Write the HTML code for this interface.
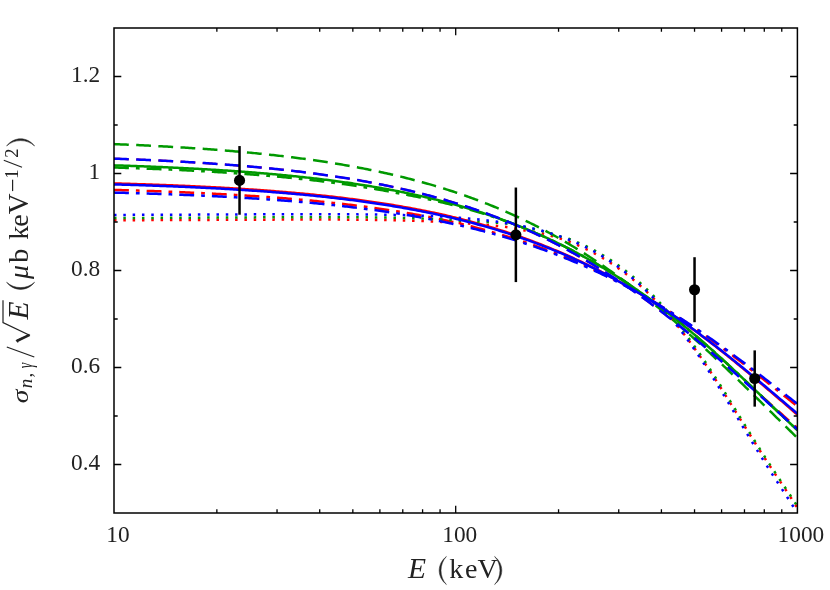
<!DOCTYPE html>
<html><head><meta charset="utf-8"><title>plot</title>
<style>
html,body{margin:0;padding:0;background:#fff;}
svg{display:block;will-change:transform;}
text{font-family:"Liberation Serif",serif;fill:#222;}
</style></head>
<body>
<svg width="830" height="590" viewBox="0 0 830 590">
<rect width="830" height="590" fill="#fff"/>
<defs><clipPath id="cp"><rect x="114.0" y="28.0" width="683.4" height="485.0"/></clipPath></defs>
<g clip-path="url(#cp)" stroke-linecap="butt" stroke-linejoin="round">
<path d="M114.00,183.43 L115.71,183.47 L117.43,183.52 L119.14,183.57 L120.85,183.62 L122.56,183.67 L124.28,183.72 L125.99,183.77 L127.70,183.82 L129.42,183.87 L131.13,183.92 L132.84,183.97 L134.55,184.03 L136.27,184.08 L137.98,184.13 L139.69,184.19 L141.40,184.24 L143.12,184.30 L144.83,184.36 L146.54,184.41 L148.26,184.47 L149.97,184.53 L151.68,184.59 L153.39,184.65 L155.11,184.71 L156.82,184.77 L158.53,184.84 L160.25,184.90 L161.96,184.96 L163.67,185.03 L165.38,185.09 L167.10,185.16 L168.81,185.23 L170.52,185.29 L172.23,185.36 L173.95,185.43 L175.66,185.50 L177.37,185.57 L179.09,185.64 L180.80,185.71 L182.51,185.79 L184.22,185.86 L185.94,185.94 L187.65,186.01 L189.36,186.09 L191.08,186.17 L192.79,186.24 L194.50,186.32 L196.21,186.40 L197.93,186.48 L199.64,186.57 L201.35,186.65 L203.06,186.73 L204.78,186.82 L206.49,186.90 L208.20,186.99 L209.92,187.08 L211.63,187.17 L213.34,187.25 L215.05,187.35 L216.77,187.44 L218.48,187.53 L220.19,187.62 L221.91,187.72 L223.62,187.81 L225.33,187.91 L227.04,188.01 L228.76,188.11 L230.47,188.21 L232.18,188.31 L233.89,188.41 L235.61,188.52 L237.32,188.62 L239.03,188.73 L240.75,188.83 L242.46,188.94 L244.17,189.05 L245.88,189.16 L247.60,189.27 L249.31,189.39 L251.02,189.50 L252.74,189.62 L254.45,189.74 L256.16,189.85 L257.87,189.97 L259.59,190.10 L261.30,190.22 L263.01,190.34 L264.72,190.47 L266.44,190.59 L268.15,190.72 L269.86,190.85 L271.58,190.98 L273.29,191.11 L275.00,191.25 L276.71,191.38 L278.43,191.52 L280.14,191.66 L281.85,191.80 L283.57,191.94 L285.28,192.08 L286.99,192.23 L288.70,192.38 L290.42,192.52 L292.13,192.67 L293.84,192.82 L295.55,192.98 L297.27,193.13 L298.98,193.29 L300.69,193.45 L302.41,193.61 L304.12,193.77 L305.83,193.93 L307.54,194.10 L309.26,194.26 L310.97,194.43 L312.68,194.60 L314.40,194.77 L316.11,194.95 L317.82,195.13 L319.53,195.30 L321.25,195.48 L322.96,195.67 L324.67,195.85 L326.38,196.04 L328.10,196.22 L329.81,196.42 L331.52,196.61 L333.24,196.80 L334.95,197.00 L336.66,197.20 L338.37,197.40 L340.09,197.60 L341.80,197.81 L343.51,198.01 L345.23,198.22 L346.94,198.44 L348.65,198.65 L350.36,198.87 L352.08,199.09 L353.79,199.31 L355.50,199.53 L357.22,199.76 L358.93,199.98 L360.64,200.22 L362.35,200.45 L364.07,200.69 L365.78,200.92 L367.49,201.16 L369.20,201.41 L370.92,201.65 L372.63,201.90 L374.34,202.15 L376.06,202.41 L377.77,202.67 L379.48,202.93 L381.19,203.19 L382.91,203.45 L384.62,203.72 L386.33,203.99 L388.05,204.27 L389.76,204.54 L391.47,204.82 L393.18,205.10 L394.90,205.39 L396.61,205.68 L398.32,205.97 L400.03,206.26 L401.75,206.56 L403.46,206.86 L405.17,207.17 L406.89,207.47 L408.60,207.78 L410.31,208.10 L412.02,208.41 L413.74,208.73 L415.45,209.06 L417.16,209.38 L418.88,209.71 L420.59,210.05 L422.30,210.38 L424.01,210.72 L425.73,211.07 L427.44,211.41 L429.15,211.77 L430.86,212.12 L432.58,212.48 L434.29,212.84 L436.00,213.20 L437.72,213.57 L439.43,213.95 L441.14,214.32 L442.85,214.70 L444.57,215.09 L446.28,215.48 L447.99,215.87 L449.71,216.26 L451.42,216.67 L453.13,217.09 L454.84,217.50 L456.56,217.92 L458.27,218.35 L459.98,218.78 L461.69,219.21 L463.41,219.65 L465.12,220.09 L466.83,220.54 L468.55,220.99 L470.26,221.44 L471.97,221.90 L473.68,222.37 L475.40,222.84 L477.11,223.31 L478.82,223.79 L480.54,224.27 L482.25,224.75 L483.96,225.24 L485.67,225.74 L487.39,226.24 L489.10,226.75 L490.81,227.26 L492.52,227.77 L494.24,228.29 L495.95,228.81 L497.66,229.34 L499.38,229.88 L501.09,230.42 L502.80,230.96 L504.51,231.51 L506.23,232.06 L507.94,232.62 L509.65,233.19 L511.37,233.76 L513.08,234.33 L514.79,234.91 L516.50,235.50 L518.22,236.09 L519.93,236.69 L521.64,237.29 L523.35,237.89 L525.07,238.51 L526.78,239.13 L528.49,239.75 L530.21,240.38 L531.92,241.01 L533.63,241.65 L535.34,242.30 L537.06,242.95 L538.77,243.61 L540.48,244.27 L542.20,244.94 L543.91,245.61 L545.62,246.29 L547.33,246.98 L549.05,247.67 L550.76,248.37 L552.47,249.08 L554.18,249.79 L555.90,250.50 L557.61,251.23 L559.32,251.95 L561.04,252.69 L562.75,253.43 L564.46,254.18 L566.17,254.93 L567.89,255.69 L569.60,256.46 L571.31,257.23 L573.03,258.01 L574.74,258.79 L576.45,259.58 L578.16,260.38 L579.88,261.19 L581.59,262.00 L583.30,262.81 L585.02,263.64 L586.73,264.47 L588.44,265.30 L590.15,266.15 L591.87,267.00 L593.58,267.85 L595.29,268.72 L597.00,269.59 L598.72,270.46 L600.43,271.35 L602.14,272.24 L603.86,273.13 L605.57,274.04 L607.28,274.95 L608.99,275.86 L610.71,276.79 L612.42,277.72 L614.13,278.66 L615.85,279.60 L617.56,280.55 L619.27,281.51 L620.98,282.48 L622.70,283.45 L624.41,284.43 L626.12,285.41 L627.83,286.41 L629.55,287.41 L631.26,288.41 L632.97,289.43 L634.69,290.45 L636.40,291.47 L638.11,292.51 L639.82,293.55 L641.54,294.60 L643.25,295.65 L644.96,296.72 L646.68,297.78 L648.39,298.86 L650.10,299.94 L651.81,301.03 L653.53,302.13 L655.24,303.23 L656.95,304.34 L658.66,305.46 L660.38,306.59 L662.09,307.72 L663.80,308.85 L665.52,310.00 L667.23,311.16 L668.94,312.32 L670.65,313.49 L672.37,314.66 L674.08,315.84 L675.79,317.03 L677.51,318.23 L679.22,319.43 L680.93,320.64 L682.64,321.85 L684.36,323.08 L686.07,324.31 L687.78,325.54 L689.49,326.78 L691.21,328.03 L692.92,329.28 L694.63,330.54 L696.35,331.81 L698.06,333.08 L699.77,334.36 L701.48,335.64 L703.20,336.93 L704.91,338.23 L706.62,339.53 L708.34,340.84 L710.05,342.16 L711.76,343.48 L713.47,344.80 L715.19,346.13 L716.90,347.47 L718.61,348.81 L720.32,350.16 L722.04,351.51 L723.75,352.87 L725.46,354.23 L727.18,355.60 L728.89,356.97 L730.60,358.35 L732.31,359.73 L734.03,361.12 L735.74,362.51 L737.45,363.91 L739.17,365.31 L740.88,366.71 L742.59,368.12 L744.30,369.54 L746.02,370.96 L747.73,372.38 L749.44,373.80 L751.15,375.23 L752.87,376.66 L754.58,378.10 L756.29,379.54 L758.01,380.98 L759.72,382.42 L761.43,383.87 L763.14,385.32 L764.86,386.78 L766.57,388.23 L768.28,389.69 L770.00,391.15 L771.71,392.61 L773.42,394.08 L775.13,395.54 L776.85,397.01 L778.56,398.48 L780.27,399.95 L781.98,401.42 L783.70,402.89 L785.41,404.36 L787.12,405.83 L788.84,407.31 L790.55,408.78 L792.26,410.25 L793.97,411.72 L795.69,413.20 L797.40,414.67" fill="none" stroke="#ff0000" stroke-width="2.5"/>
<path d="M114.00,158.63 L115.71,158.69 L117.43,158.75 L119.14,158.82 L120.85,158.88 L122.56,158.95 L124.28,159.01 L125.99,159.08 L127.70,159.14 L129.42,159.21 L131.13,159.28 L132.84,159.35 L134.55,159.42 L136.27,159.49 L137.98,159.56 L139.69,159.64 L141.40,159.71 L143.12,159.79 L144.83,159.86 L146.54,159.94 L148.26,160.01 L149.97,160.09 L151.68,160.17 L153.39,160.25 L155.11,160.33 L156.82,160.41 L158.53,160.50 L160.25,160.58 L161.96,160.66 L163.67,160.75 L165.38,160.83 L167.10,160.92 L168.81,161.01 L170.52,161.10 L172.23,161.19 L173.95,161.28 L175.66,161.37 L177.37,161.47 L179.09,161.56 L180.80,161.66 L182.51,161.75 L184.22,161.85 L185.94,161.95 L187.65,162.05 L189.36,162.15 L191.08,162.25 L192.79,162.35 L194.50,162.46 L196.21,162.56 L197.93,162.67 L199.64,162.78 L201.35,162.89 L203.06,163.00 L204.78,163.11 L206.49,163.22 L208.20,163.34 L209.92,163.45 L211.63,163.57 L213.34,163.69 L215.05,163.81 L216.77,163.93 L218.48,164.05 L220.19,164.17 L221.91,164.30 L223.62,164.42 L225.33,164.55 L227.04,164.68 L228.76,164.81 L230.47,164.94 L232.18,165.07 L233.89,165.21 L235.61,165.35 L237.32,165.48 L239.03,165.62 L240.75,165.76 L242.46,165.91 L244.17,166.05 L245.88,166.20 L247.60,166.34 L249.31,166.49 L251.02,166.64 L252.74,166.79 L254.45,166.95 L256.16,167.10 L257.87,167.26 L259.59,167.42 L261.30,167.58 L263.01,167.74 L264.72,167.91 L266.44,168.07 L268.15,168.24 L269.86,168.41 L271.58,168.58 L273.29,168.76 L275.00,168.93 L276.71,169.11 L278.43,169.29 L280.14,169.47 L281.85,169.65 L283.57,169.84 L285.28,170.03 L286.99,170.22 L288.70,170.41 L290.42,170.60 L292.13,170.80 L293.84,171.00 L295.55,171.20 L297.27,171.40 L298.98,171.60 L300.69,171.81 L302.41,172.02 L304.12,172.23 L305.83,172.44 L307.54,172.66 L309.26,172.88 L310.97,173.10 L312.68,173.32 L314.40,173.55 L316.11,173.77 L317.82,174.00 L319.53,174.24 L321.25,174.47 L322.96,174.71 L324.67,174.95 L326.38,175.19 L328.10,175.44 L329.81,175.69 L331.52,175.94 L333.24,176.19 L334.95,176.45 L336.66,176.70 L338.37,176.97 L340.09,177.23 L341.80,177.50 L343.51,177.77 L345.23,178.04 L346.94,178.32 L348.65,178.60 L350.36,178.88 L352.08,179.16 L353.79,179.45 L355.50,179.74 L357.22,180.03 L358.93,180.33 L360.64,180.63 L362.35,180.93 L364.07,181.24 L365.78,181.55 L367.49,181.86 L369.20,182.18 L370.92,182.50 L372.63,182.82 L374.34,183.15 L376.06,183.48 L377.77,183.81 L379.48,184.15 L381.19,184.49 L382.91,184.83 L384.62,185.18 L386.33,185.53 L388.05,185.88 L389.76,186.24 L391.47,186.60 L393.18,186.97 L394.90,187.34 L396.61,187.71 L398.32,188.09 L400.03,188.47 L401.75,188.85 L403.46,189.24 L405.17,189.63 L406.89,190.03 L408.60,190.43 L410.31,190.83 L412.02,191.24 L413.74,191.65 L415.45,192.07 L417.16,192.49 L418.88,192.92 L420.59,193.35 L422.30,193.78 L424.01,194.22 L425.73,194.66 L427.44,195.11 L429.15,195.56 L430.86,196.01 L432.58,196.47 L434.29,196.94 L436.00,197.41 L437.72,197.88 L439.43,198.36 L441.14,198.84 L442.85,199.33 L444.57,199.82 L446.28,200.32 L447.99,200.83 L449.71,201.33 L451.42,201.84 L453.13,202.36 L454.84,202.88 L456.56,203.41 L458.27,203.94 L459.98,204.48 L461.69,205.02 L463.41,205.57 L465.12,206.12 L466.83,206.68 L468.55,207.25 L470.26,207.81 L471.97,208.39 L473.68,208.97 L475.40,209.55 L477.11,210.14 L478.82,210.74 L480.54,211.34 L482.25,211.95 L483.96,212.56 L485.67,213.18 L487.39,213.80 L489.10,214.43 L490.81,215.07 L492.52,215.71 L494.24,216.36 L495.95,217.01 L497.66,217.67 L499.38,218.33 L501.09,219.00 L502.80,219.68 L504.51,220.36 L506.23,221.05 L507.94,221.75 L509.65,222.45 L511.37,223.16 L513.08,223.87 L514.79,224.59 L516.50,225.31 L518.22,226.05 L519.93,226.79 L521.64,227.53 L523.35,228.28 L525.07,229.04 L526.78,229.80 L528.49,230.58 L530.21,231.35 L531.92,232.14 L533.63,232.93 L535.34,233.72 L537.06,234.53 L538.77,235.34 L540.48,236.16 L542.20,236.98 L543.91,237.81 L545.62,238.65 L547.33,239.49 L549.05,240.34 L550.76,241.20 L552.47,242.07 L554.18,242.94 L555.90,243.82 L557.61,244.70 L559.32,245.59 L561.04,246.49 L562.75,247.40 L564.46,248.31 L566.17,249.24 L567.89,250.16 L569.60,251.10 L571.31,252.04 L573.03,252.99 L574.74,253.94 L576.45,254.91 L578.16,255.88 L579.88,256.86 L581.59,257.84 L583.30,258.83 L585.02,259.83 L586.73,260.84 L588.44,261.85 L590.15,262.87 L591.87,263.90 L593.58,264.94 L595.29,265.98 L597.00,267.03 L598.72,268.08 L600.43,269.15 L602.14,270.22 L603.86,271.30 L605.57,272.38 L607.28,273.48 L608.99,274.58 L610.71,275.69 L612.42,276.80 L614.13,277.92 L615.85,279.05 L617.56,280.19 L619.27,281.33 L620.98,282.48 L622.70,283.64 L624.41,284.80 L626.12,285.98 L627.83,287.16 L629.55,288.34 L631.26,289.54 L632.97,290.74 L634.69,291.94 L636.40,293.16 L638.11,294.38 L639.82,295.61 L641.54,296.84 L643.25,298.08 L644.96,299.33 L646.68,300.59 L648.39,301.85 L650.10,303.12 L651.81,304.39 L653.53,305.68 L655.24,306.96 L656.95,308.26 L658.66,309.56 L660.38,310.87 L662.09,312.18 L663.80,313.50 L665.52,314.83 L667.23,316.14 L668.94,317.46 L670.65,318.79 L672.37,320.12 L674.08,321.46 L675.79,322.81 L677.51,324.16 L679.22,325.51 L680.93,326.88 L682.64,328.24 L684.36,329.62 L686.07,331.00 L687.78,332.38 L689.49,333.77 L691.21,335.17 L692.92,336.57 L694.63,337.97 L696.35,339.38 L698.06,340.80 L699.77,342.22 L701.48,343.65 L703.20,345.08 L704.91,346.51 L706.62,347.95 L708.34,349.39 L710.05,350.84 L711.76,352.30 L713.47,353.75 L715.19,355.21 L716.90,356.68 L718.61,358.15 L720.32,359.62 L722.04,361.09 L723.75,362.57 L725.46,364.06 L727.18,365.54 L728.89,367.03 L730.60,368.52 L732.31,370.02 L734.03,371.52 L735.74,373.02 L737.45,374.52 L739.17,376.03 L740.88,377.54 L742.59,379.05 L744.30,380.56 L746.02,382.08 L747.73,383.60 L749.44,385.11 L751.15,386.64 L752.87,388.16 L754.58,389.68 L756.29,391.21 L758.01,392.73 L759.72,394.26 L761.43,395.79 L763.14,397.32 L764.86,398.84 L766.57,400.37 L768.28,401.90 L770.00,403.43 L771.71,404.97 L773.42,406.50 L775.13,408.03 L776.85,409.56 L778.56,411.09 L780.27,412.61 L781.98,414.14 L783.70,415.67 L785.41,417.20 L787.12,418.72 L788.84,420.25 L790.55,421.77 L792.26,423.29 L793.97,424.81 L795.69,426.33 L797.40,427.84" fill="none" stroke="#ff0000" stroke-width="2.1" stroke-dasharray="14.8 7.4"/>
<path d="M114.00,189.88 L115.71,189.93 L117.43,189.98 L119.14,190.03 L120.85,190.08 L122.56,190.13 L124.28,190.18 L125.99,190.23 L127.70,190.28 L129.42,190.33 L131.13,190.39 L132.84,190.44 L134.55,190.49 L136.27,190.55 L137.98,190.60 L139.69,190.66 L141.40,190.71 L143.12,190.77 L144.83,190.83 L146.54,190.89 L148.26,190.94 L149.97,191.00 L151.68,191.06 L153.39,191.12 L155.11,191.19 L156.82,191.25 L158.53,191.31 L160.25,191.37 L161.96,191.44 L163.67,191.50 L165.38,191.56 L167.10,191.63 L168.81,191.70 L170.52,191.76 L172.23,191.83 L173.95,191.90 L175.66,191.97 L177.37,192.04 L179.09,192.11 L180.80,192.18 L182.51,192.25 L184.22,192.33 L185.94,192.40 L187.65,192.48 L189.36,192.55 L191.08,192.63 L192.79,192.70 L194.50,192.78 L196.21,192.86 L197.93,192.94 L199.64,193.02 L201.35,193.10 L203.06,193.19 L204.78,193.27 L206.49,193.35 L208.20,193.44 L209.92,193.52 L211.63,193.61 L213.34,193.70 L215.05,193.79 L216.77,193.88 L218.48,193.97 L220.19,194.06 L221.91,194.15 L223.62,194.24 L225.33,194.34 L227.04,194.43 L228.76,194.53 L230.47,194.63 L232.18,194.73 L233.89,194.82 L235.61,194.93 L237.32,195.03 L239.03,195.13 L240.75,195.23 L242.46,195.34 L244.17,195.45 L245.88,195.55 L247.60,195.66 L249.31,195.77 L251.02,195.88 L252.74,195.99 L254.45,196.11 L256.16,196.22 L257.87,196.34 L259.59,196.45 L261.30,196.57 L263.01,196.69 L264.72,196.81 L266.44,196.94 L268.15,197.06 L269.86,197.18 L271.58,197.31 L273.29,197.44 L275.00,197.57 L276.71,197.70 L278.43,197.83 L280.14,197.96 L281.85,198.10 L283.57,198.23 L285.28,198.37 L286.99,198.51 L288.70,198.65 L290.42,198.79 L292.13,198.93 L293.84,199.08 L295.55,199.22 L297.27,199.37 L298.98,199.52 L300.69,199.67 L302.41,199.83 L304.12,199.98 L305.83,200.14 L307.54,200.29 L309.26,200.45 L310.97,200.61 L312.68,200.78 L314.40,200.94 L316.11,201.11 L317.82,201.28 L319.53,201.45 L321.25,201.62 L322.96,201.79 L324.67,201.97 L326.38,202.14 L328.10,202.32 L329.81,202.51 L331.52,202.69 L333.24,202.87 L334.95,203.06 L336.66,203.25 L338.37,203.44 L340.09,203.63 L341.80,203.83 L343.51,204.02 L345.23,204.22 L346.94,204.43 L348.65,204.63 L350.36,204.83 L352.08,205.04 L353.79,205.25 L355.50,205.46 L357.22,205.68 L358.93,205.89 L360.64,206.11 L362.35,206.33 L364.07,206.56 L365.78,206.78 L367.49,207.01 L369.20,207.24 L370.92,207.48 L372.63,207.71 L374.34,207.95 L376.06,208.19 L377.77,208.43 L379.48,208.68 L381.19,208.93 L382.91,209.18 L384.62,209.43 L386.33,209.68 L388.05,209.94 L389.76,210.20 L391.47,210.47 L393.18,210.73 L394.90,211.00 L396.61,211.28 L398.32,211.55 L400.03,211.83 L401.75,212.11 L403.46,212.39 L405.17,212.68 L406.89,212.97 L408.60,213.26 L410.31,213.56 L412.02,213.85 L413.74,214.16 L415.45,214.46 L417.16,214.77 L418.88,215.08 L420.59,215.39 L422.30,215.71 L424.01,216.03 L425.73,216.35 L427.44,216.68 L429.15,217.01 L430.86,217.34 L432.58,217.68 L434.29,218.02 L436.00,218.36 L437.72,218.71 L439.43,219.06 L441.14,219.41 L442.85,219.77 L444.57,220.13 L446.28,220.50 L447.99,220.86 L449.71,221.24 L451.42,221.62 L453.13,222.01 L454.84,222.41 L456.56,222.80 L458.27,223.21 L459.98,223.61 L461.69,224.02 L463.41,224.44 L465.12,224.85 L466.83,225.27 L468.55,225.70 L470.26,226.13 L471.97,226.56 L473.68,227.00 L475.40,227.44 L477.11,227.89 L478.82,228.34 L480.54,228.79 L482.25,229.25 L483.96,229.71 L485.67,230.18 L487.39,230.65 L489.10,231.13 L490.81,231.61 L492.52,232.09 L494.24,232.58 L495.95,233.08 L497.66,233.57 L499.38,234.08 L501.09,234.58 L502.80,235.10 L504.51,235.61 L506.23,236.13 L507.94,236.66 L509.65,237.19 L511.37,237.73 L513.08,238.27 L514.79,238.81 L516.50,239.36 L518.22,239.92 L519.93,240.48 L521.64,241.04 L523.35,241.61 L525.07,242.19 L526.78,242.77 L528.49,243.35 L530.21,243.94 L531.92,244.54 L533.63,245.14 L535.34,245.74 L537.06,246.35 L538.77,246.97 L540.48,247.59 L542.20,248.22 L543.91,248.85 L545.62,249.49 L547.33,250.13 L549.05,250.78 L550.76,251.44 L552.47,252.09 L554.18,252.76 L555.90,253.43 L557.61,254.11 L559.32,254.79 L561.04,255.48 L562.75,256.17 L564.46,256.87 L566.17,257.57 L567.89,258.28 L569.60,259.00 L571.31,259.72 L573.03,260.45 L574.74,261.18 L576.45,261.92 L578.16,262.67 L579.88,263.42 L581.59,264.18 L583.30,264.94 L585.02,265.71 L586.73,266.49 L588.44,267.27 L590.15,268.05 L591.87,268.85 L593.58,269.65 L595.29,270.45 L597.00,271.27 L598.72,272.08 L600.43,272.91 L602.14,273.74 L603.86,274.57 L605.57,275.42 L607.28,276.27 L608.99,277.12 L610.71,277.98 L612.42,278.85 L614.13,279.72 L615.85,280.60 L617.56,281.49 L619.27,282.38 L620.98,283.28 L622.70,284.19 L624.41,285.10 L626.12,286.02 L627.83,286.94 L629.55,287.87 L631.26,288.81 L632.97,289.75 L634.69,290.70 L636.40,291.66 L638.11,292.62 L639.82,293.59 L641.54,294.56 L643.25,295.54 L644.96,296.53 L646.68,297.52 L648.39,298.52 L650.10,299.53 L651.81,300.54 L653.53,301.56 L655.24,302.59 L656.95,303.62 L658.66,304.66 L660.38,305.70 L662.09,306.75 L663.80,307.81 L665.52,308.87 L667.23,309.96 L668.94,311.05 L670.65,312.14 L672.37,313.25 L674.08,314.36 L675.79,315.47 L677.51,316.59 L679.22,317.72 L680.93,318.85 L682.64,319.99 L684.36,321.13 L686.07,322.28 L687.78,323.44 L689.49,324.60 L691.21,325.77 L692.92,326.94 L694.63,328.12 L696.35,329.30 L698.06,330.49 L699.77,331.69 L701.48,332.89 L703.20,334.10 L704.91,335.31 L706.62,336.52 L708.34,337.75 L710.05,338.97 L711.76,340.21 L713.47,341.44 L715.19,342.68 L716.90,343.93 L718.61,345.18 L720.32,346.44 L722.04,347.70 L723.75,348.97 L725.46,350.24 L727.18,351.51 L728.89,352.79 L730.60,354.07 L732.31,355.36 L734.03,356.65 L735.74,357.95 L737.45,359.25 L739.17,360.55 L740.88,361.86 L742.59,363.17 L744.30,364.48 L746.02,365.80 L747.73,367.12 L749.44,368.45 L751.15,369.77 L752.87,371.10 L754.58,372.44 L756.29,373.77 L758.01,375.11 L759.72,376.45 L761.43,377.79 L763.14,379.14 L764.86,380.49 L766.57,381.84 L768.28,383.19 L770.00,384.54 L771.71,385.90 L773.42,387.25 L775.13,388.61 L776.85,389.97 L778.56,391.33 L780.27,392.69 L781.98,394.05 L783.70,395.41 L785.41,396.77 L787.12,398.13 L788.84,399.49 L790.55,400.85 L792.26,402.21 L793.97,403.57 L795.69,404.93 L797.40,406.28" fill="none" stroke="#ff0000" stroke-width="2.5" stroke-dasharray="14.9 7.0 3.75 7.0"/>
<path d="M114.00,220.26 L115.71,220.25 L117.43,220.25 L119.14,220.24 L120.85,220.23 L122.56,220.23 L124.28,220.22 L125.99,220.22 L127.70,220.21 L129.42,220.20 L131.13,220.20 L132.84,220.19 L134.55,220.19 L136.27,220.18 L137.98,220.17 L139.69,220.17 L141.40,220.16 L143.12,220.15 L144.83,220.15 L146.54,220.14 L148.26,220.14 L149.97,220.13 L151.68,220.12 L153.39,220.12 L155.11,220.11 L156.82,220.10 L158.53,220.10 L160.25,220.09 L161.96,220.08 L163.67,220.08 L165.38,220.07 L167.10,220.06 L168.81,220.05 L170.52,220.05 L172.23,220.04 L173.95,220.03 L175.66,220.03 L177.37,220.02 L179.09,220.01 L180.80,220.01 L182.51,220.00 L184.22,219.99 L185.94,219.98 L187.65,219.98 L189.36,219.97 L191.08,219.96 L192.79,219.96 L194.50,219.95 L196.21,219.94 L197.93,219.93 L199.64,219.93 L201.35,219.92 L203.06,219.91 L204.78,219.90 L206.49,219.90 L208.20,219.89 L209.92,219.88 L211.63,219.87 L213.34,219.87 L215.05,219.86 L216.77,219.85 L218.48,219.84 L220.19,219.84 L221.91,219.83 L223.62,219.82 L225.33,219.82 L227.04,219.81 L228.76,219.80 L230.47,219.79 L232.18,219.79 L233.89,219.78 L235.61,219.77 L237.32,219.76 L239.03,219.76 L240.75,219.75 L242.46,219.74 L244.17,219.74 L245.88,219.73 L247.60,219.72 L249.31,219.72 L251.02,219.71 L252.74,219.70 L254.45,219.70 L256.16,219.69 L257.87,219.68 L259.59,219.68 L261.30,219.67 L263.01,219.66 L264.72,219.66 L266.44,219.65 L268.15,219.65 L269.86,219.64 L271.58,219.64 L273.29,219.63 L275.00,219.62 L276.71,219.62 L278.43,219.61 L280.14,219.61 L281.85,219.61 L283.57,219.60 L285.28,219.60 L286.99,219.59 L288.70,219.59 L290.42,219.58 L292.13,219.58 L293.84,219.58 L295.55,219.57 L297.27,219.57 L298.98,219.57 L300.69,219.57 L302.41,219.56 L304.12,219.56 L305.83,219.56 L307.54,219.56 L309.26,219.56 L310.97,219.56 L312.68,219.56 L314.40,219.56 L316.11,219.56 L317.82,219.56 L319.53,219.56 L321.25,219.56 L322.96,219.56 L324.67,219.57 L326.38,219.57 L328.10,219.57 L329.81,219.57 L331.52,219.58 L333.24,219.58 L334.95,219.59 L336.66,219.59 L338.37,219.60 L340.09,219.61 L341.80,219.61 L343.51,219.62 L345.23,219.63 L346.94,219.64 L348.65,219.65 L350.36,219.66 L352.08,219.67 L353.79,219.68 L355.50,219.69 L357.22,219.71 L358.93,219.72 L360.64,219.74 L362.35,219.75 L364.07,219.77 L365.78,219.79 L367.49,219.80 L369.20,219.82 L370.92,219.84 L372.63,219.86 L374.34,219.89 L376.06,219.91 L377.77,219.93 L379.48,219.96 L381.19,219.98 L382.91,220.01 L384.62,220.04 L386.33,220.07 L388.05,220.10 L389.76,220.13 L391.47,220.17 L393.18,220.20 L394.90,220.24 L396.61,220.28 L398.32,220.32 L400.03,220.36 L401.75,220.40 L403.46,220.44 L405.17,220.49 L406.89,220.54 L408.60,220.59 L410.31,220.64 L412.02,220.69 L413.74,220.75 L415.45,220.80 L417.16,220.86 L418.88,220.92 L420.59,220.98 L422.30,221.05 L424.01,221.12 L425.73,221.19 L427.44,221.26 L429.15,221.33 L430.86,221.41 L432.58,221.49 L434.29,221.57 L436.00,221.65 L437.72,221.74 L439.43,221.83 L441.14,221.92 L442.85,222.02 L444.57,222.12 L446.28,222.22 L447.99,222.32 L449.71,222.43 L451.42,222.54 L453.13,222.66 L454.84,222.78 L456.56,222.90 L458.27,223.03 L459.98,223.15 L461.69,223.23 L463.41,223.32 L465.12,223.40 L466.83,223.50 L468.55,223.59 L470.26,223.69 L471.97,223.79 L473.68,223.90 L475.40,224.02 L477.11,224.14 L478.82,224.26 L480.54,224.39 L482.25,224.52 L483.96,224.66 L485.67,224.80 L487.39,224.95 L489.10,225.11 L490.81,225.27 L492.52,225.44 L494.24,225.61 L495.95,225.79 L497.66,225.97 L499.38,226.16 L501.09,226.36 L502.80,226.57 L504.51,226.78 L506.23,227.01 L507.94,227.29 L509.65,227.58 L511.37,227.87 L513.08,228.18 L514.79,228.49 L516.50,228.81 L518.22,229.14 L519.93,229.47 L521.64,229.82 L523.35,230.17 L525.07,230.53 L526.78,230.76 L528.49,231.01 L530.21,231.26 L531.92,231.52 L533.63,231.80 L535.34,232.08 L537.06,232.37 L538.77,232.68 L540.48,233.02 L542.20,233.44 L543.91,233.87 L545.62,234.31 L547.33,234.76 L549.05,235.22 L550.76,235.70 L552.47,236.19 L554.18,236.70 L555.90,237.21 L557.61,237.74 L559.32,238.28 L561.04,238.84 L562.75,239.41 L564.46,240.00 L566.17,240.60 L567.89,241.21 L569.60,241.84 L571.31,242.51 L573.03,243.21 L574.74,243.92 L576.45,244.64 L578.16,245.38 L579.88,246.14 L581.59,246.92 L583.30,247.71 L585.02,248.53 L586.73,249.36 L588.44,250.21 L590.15,251.07 L591.87,251.96 L593.58,252.87 L595.29,253.79 L597.00,254.74 L598.72,255.71 L600.43,256.69 L602.14,257.70 L603.86,258.73 L605.57,259.78 L607.28,260.86 L608.99,261.95 L610.71,263.07 L612.42,264.19 L614.13,265.33 L615.85,266.48 L617.56,267.67 L619.27,268.87 L620.98,270.10 L622.70,271.36 L624.41,272.64 L626.12,273.95 L627.83,275.28 L629.55,276.64 L631.26,278.02 L632.97,279.43 L634.69,280.87 L636.40,282.33 L638.11,283.82 L639.82,285.34 L641.54,286.89 L643.25,288.46 L644.96,290.06 L646.68,291.69 L648.39,293.35 L650.10,295.04 L651.81,296.75 L653.53,298.50 L655.24,300.27 L656.95,302.07 L658.66,303.90 L660.38,305.77 L662.09,307.66 L663.80,309.57 L665.52,311.51 L667.23,313.47 L668.94,315.45 L670.65,317.45 L672.37,319.49 L674.08,321.56 L675.79,323.66 L677.51,325.78 L679.22,327.93 L680.93,330.12 L682.64,332.32 L684.36,334.56 L686.07,336.83 L687.78,339.12 L689.49,341.44 L691.21,343.78 L692.92,346.16 L694.63,348.55 L696.35,350.97 L698.06,353.42 L699.77,355.89 L701.48,358.38 L703.20,360.90 L704.91,363.44 L706.62,366.00 L708.34,368.58 L710.05,371.18 L711.76,373.79 L713.47,376.43 L715.19,379.08 L716.90,381.75 L718.61,384.43 L720.32,387.13 L722.04,389.84 L723.75,392.56 L725.46,395.30 L727.18,398.04 L728.89,400.79 L730.60,403.55 L732.31,406.31 L734.03,409.08 L735.74,411.85 L737.45,414.62 L739.17,417.40 L740.88,420.17 L742.59,422.94 L744.30,425.71 L746.02,428.48 L747.73,431.23 L749.44,433.99 L751.15,436.73 L752.87,439.47 L754.58,442.19 L756.29,444.91 L758.01,447.61 L759.72,450.30 L761.43,452.98 L763.14,455.65 L764.86,458.30 L766.57,460.93 L768.28,463.56 L770.00,466.17 L771.71,468.79 L773.42,471.39 L775.13,473.99 L776.85,476.57 L778.56,479.15 L780.27,481.72 L781.98,484.29 L783.70,486.86 L785.41,489.43 L787.12,492.01 L788.84,494.60 L790.55,497.21 L792.26,499.84 L793.97,502.51 L795.69,505.21 L797.40,507.96" fill="none" stroke="#ff0000" stroke-width="2.5" stroke-dasharray="2.5 6.815"/>
<path d="M114.00,165.34 L115.71,165.39 L117.43,165.44 L119.14,165.50 L120.85,165.56 L122.56,165.61 L124.28,165.67 L125.99,165.73 L127.70,165.79 L129.42,165.85 L131.13,165.91 L132.84,165.97 L134.55,166.03 L136.27,166.09 L137.98,166.15 L139.69,166.22 L141.40,166.28 L143.12,166.34 L144.83,166.41 L146.54,166.48 L148.26,166.54 L149.97,166.61 L151.68,166.68 L153.39,166.75 L155.11,166.82 L156.82,166.89 L158.53,166.96 L160.25,167.04 L161.96,167.11 L163.67,167.18 L165.38,167.26 L167.10,167.33 L168.81,167.41 L170.52,167.49 L172.23,167.57 L173.95,167.65 L175.66,167.73 L177.37,167.81 L179.09,167.89 L180.80,167.97 L182.51,168.06 L184.22,168.14 L185.94,168.23 L187.65,168.32 L189.36,168.41 L191.08,168.49 L192.79,168.58 L194.50,168.68 L196.21,168.77 L197.93,168.86 L199.64,168.96 L201.35,169.05 L203.06,169.15 L204.78,169.24 L206.49,169.34 L208.20,169.44 L209.92,169.54 L211.63,169.65 L213.34,169.75 L215.05,169.85 L216.77,169.96 L218.48,170.07 L220.19,170.17 L221.91,170.28 L223.62,170.39 L225.33,170.50 L227.04,170.62 L228.76,170.73 L230.47,170.85 L232.18,170.96 L233.89,171.08 L235.61,171.20 L237.32,171.32 L239.03,171.44 L240.75,171.57 L242.46,171.69 L244.17,171.82 L245.88,171.94 L247.60,172.07 L249.31,172.20 L251.02,172.34 L252.74,172.47 L254.45,172.60 L256.16,172.74 L257.87,172.88 L259.59,173.02 L261.30,173.16 L263.01,173.30 L264.72,173.45 L266.44,173.59 L268.15,173.74 L269.86,173.89 L271.58,174.04 L273.29,174.19 L275.00,174.35 L276.71,174.50 L278.43,174.66 L280.14,174.82 L281.85,174.98 L283.57,175.14 L285.28,175.31 L286.99,175.47 L288.70,175.64 L290.42,175.81 L292.13,175.98 L293.84,176.16 L295.55,176.33 L297.27,176.51 L298.98,176.69 L300.69,176.87 L302.41,177.06 L304.12,177.24 L305.83,177.43 L307.54,177.62 L309.26,177.81 L310.97,178.01 L312.68,178.20 L314.40,178.40 L316.11,178.60 L317.82,178.80 L319.53,179.01 L321.25,179.22 L322.96,179.43 L324.67,179.64 L326.38,179.85 L328.10,180.07 L329.81,180.29 L331.52,180.51 L333.24,180.73 L334.95,180.96 L336.66,181.19 L338.37,181.42 L340.09,181.65 L341.80,181.89 L343.51,182.13 L345.23,182.37 L346.94,182.61 L348.65,182.86 L350.36,183.11 L352.08,183.36 L353.79,183.62 L355.50,183.87 L357.22,184.13 L358.93,184.40 L360.64,184.66 L362.35,184.93 L364.07,185.20 L365.78,185.48 L367.49,185.76 L369.20,186.04 L370.92,186.32 L372.63,186.61 L374.34,186.90 L376.06,187.19 L377.77,187.48 L379.48,187.78 L381.19,188.09 L382.91,188.39 L384.62,188.70 L386.33,189.01 L388.05,189.33 L389.76,189.65 L391.47,189.97 L393.18,190.29 L394.90,190.62 L396.61,190.95 L398.32,191.29 L400.03,191.63 L401.75,191.97 L403.46,192.32 L405.17,192.67 L406.89,193.02 L408.60,193.38 L410.31,193.74 L412.02,194.11 L413.74,194.48 L415.45,194.85 L417.16,195.23 L418.88,195.61 L420.59,195.99 L422.30,196.38 L424.01,196.77 L425.73,197.17 L427.44,197.57 L429.15,197.97 L430.86,198.38 L432.58,198.80 L434.29,199.21 L436.00,199.64 L437.72,200.06 L439.43,200.49 L441.14,200.93 L442.85,201.37 L444.57,201.81 L446.28,202.26 L447.99,202.71 L449.71,203.17 L451.42,203.63 L453.13,204.10 L454.84,204.57 L456.56,205.04 L458.27,205.53 L459.98,206.01 L461.69,206.50 L463.41,207.00 L465.12,207.50 L466.83,208.00 L468.55,208.51 L470.26,209.03 L471.97,209.55 L473.68,210.08 L475.40,210.61 L477.11,211.14 L478.82,211.69 L480.54,212.23 L482.25,212.79 L483.96,213.34 L485.67,213.91 L487.39,214.47 L489.10,215.05 L490.81,215.63 L492.52,216.21 L494.24,216.81 L495.95,217.40 L497.66,218.00 L499.38,218.61 L501.09,219.23 L502.80,219.85 L504.51,220.47 L506.23,221.10 L507.94,221.74 L509.65,222.39 L511.37,223.04 L513.08,223.69 L514.79,224.35 L516.50,225.02 L518.22,225.70 L519.93,226.38 L521.64,227.07 L523.35,227.76 L525.07,228.46 L526.78,229.17 L528.49,229.88 L530.21,230.60 L531.92,231.33 L533.63,232.06 L535.34,232.80 L537.06,233.54 L538.77,234.30 L540.48,235.06 L542.20,235.82 L543.91,236.60 L545.62,237.38 L547.33,238.16 L549.05,238.96 L550.76,239.76 L552.47,240.57 L554.18,241.38 L555.90,242.21 L557.61,243.04 L559.32,243.87 L561.04,244.72 L562.75,245.57 L564.46,246.43 L566.17,247.30 L567.89,248.17 L569.60,249.05 L571.31,249.94 L573.03,250.84 L574.74,251.74 L576.45,252.65 L578.16,253.57 L579.88,254.50 L581.59,255.43 L583.30,256.37 L585.02,257.32 L586.73,258.28 L588.44,259.24 L590.15,260.22 L591.87,261.20 L593.58,262.19 L595.29,263.18 L597.00,264.19 L598.72,265.20 L600.43,266.22 L602.14,267.25 L603.86,268.29 L605.57,269.33 L607.28,270.38 L608.99,271.44 L610.71,272.51 L612.42,273.59 L614.13,274.67 L615.85,275.77 L617.56,276.87 L619.27,277.98 L620.98,279.09 L622.70,280.22 L624.41,281.35 L626.12,282.50 L627.83,283.65 L629.55,284.81 L631.26,285.97 L632.97,287.15 L634.69,288.33 L636.40,289.52 L638.11,290.72 L639.82,291.93 L641.54,293.14 L643.25,294.37 L644.96,295.60 L646.68,296.84 L648.39,298.09 L650.10,299.35 L651.81,300.61 L653.53,301.89 L655.24,303.17 L656.95,304.46 L658.66,305.76 L660.38,307.06 L662.09,308.37 L663.80,309.70 L665.52,311.03 L667.23,312.36 L668.94,313.71 L670.65,315.06 L672.37,316.42 L674.08,317.79 L675.79,319.17 L677.51,320.55 L679.22,321.94 L680.93,323.34 L682.64,324.75 L684.36,326.17 L686.07,327.59 L687.78,329.02 L689.49,330.45 L691.21,331.90 L692.92,333.35 L694.63,334.81 L696.35,336.27 L698.06,337.74 L699.77,339.22 L701.48,340.71 L703.20,342.20 L704.91,343.70 L706.62,345.21 L708.34,346.72 L710.05,348.24 L711.76,349.76 L713.47,351.29 L715.19,352.83 L716.90,354.37 L718.61,355.92 L720.32,357.47 L722.04,359.03 L723.75,360.59 L725.46,362.16 L727.18,363.74 L728.89,365.32 L730.60,366.90 L732.31,368.49 L734.03,370.08 L735.74,371.68 L737.45,373.28 L739.17,374.89 L740.88,376.50 L742.59,378.11 L744.30,379.72 L746.02,381.34 L747.73,382.96 L749.44,384.59 L751.15,386.22 L752.87,387.85 L754.58,389.48 L756.29,391.11 L758.01,392.75 L759.72,394.38 L761.43,396.02 L763.14,397.66 L764.86,399.30 L766.57,400.93 L768.28,402.57 L770.00,404.21 L771.71,405.85 L773.42,407.49 L775.13,409.12 L776.85,410.76 L778.56,412.39 L780.27,414.02 L781.98,415.65 L783.70,417.27 L785.41,418.90 L787.12,420.51 L788.84,422.13 L790.55,423.74 L792.26,425.34 L793.97,426.94 L795.69,428.54 L797.40,430.12" fill="none" stroke="#009900" stroke-width="2.5"/>
<path d="M114.00,144.10 L115.71,144.17 L117.43,144.24 L119.14,144.31 L120.85,144.38 L122.56,144.45 L124.28,144.52 L125.99,144.59 L127.70,144.66 L129.42,144.74 L131.13,144.81 L132.84,144.89 L134.55,144.96 L136.27,145.04 L137.98,145.12 L139.69,145.20 L141.40,145.28 L143.12,145.36 L144.83,145.44 L146.54,145.52 L148.26,145.61 L149.97,145.69 L151.68,145.78 L153.39,145.86 L155.11,145.95 L156.82,146.04 L158.53,146.13 L160.25,146.22 L161.96,146.31 L163.67,146.40 L165.38,146.50 L167.10,146.59 L168.81,146.69 L170.52,146.78 L172.23,146.88 L173.95,146.98 L175.66,147.08 L177.37,147.18 L179.09,147.28 L180.80,147.39 L182.51,147.49 L184.22,147.60 L185.94,147.70 L187.65,147.81 L189.36,147.92 L191.08,148.03 L192.79,148.15 L194.50,148.26 L196.21,148.37 L197.93,148.49 L199.64,148.61 L201.35,148.72 L203.06,148.84 L204.78,148.97 L206.49,149.09 L208.20,149.21 L209.92,149.34 L211.63,149.46 L213.34,149.59 L215.05,149.72 L216.77,149.85 L218.48,149.98 L220.19,150.12 L221.91,150.25 L223.62,150.39 L225.33,150.53 L227.04,150.67 L228.76,150.81 L230.47,150.95 L232.18,151.10 L233.89,151.24 L235.61,151.39 L237.32,151.54 L239.03,151.69 L240.75,151.84 L242.46,152.00 L244.17,152.16 L245.88,152.31 L247.60,152.47 L249.31,152.63 L251.02,152.80 L252.74,152.96 L254.45,153.13 L256.16,153.30 L257.87,153.47 L259.59,153.64 L261.30,153.82 L263.01,153.99 L264.72,154.17 L266.44,154.35 L268.15,154.53 L269.86,154.72 L271.58,154.90 L273.29,155.09 L275.00,155.28 L276.71,155.48 L278.43,155.67 L280.14,155.87 L281.85,156.07 L283.57,156.27 L285.28,156.47 L286.99,156.68 L288.70,156.88 L290.42,157.09 L292.13,157.31 L293.84,157.52 L295.55,157.74 L297.27,157.96 L298.98,158.18 L300.69,158.40 L302.41,158.63 L304.12,158.86 L305.83,159.09 L307.54,159.33 L309.26,159.56 L310.97,159.80 L312.68,160.04 L314.40,160.29 L316.11,160.54 L317.82,160.78 L319.53,161.04 L321.25,161.29 L322.96,161.55 L324.67,161.81 L326.38,162.07 L328.10,162.34 L329.81,162.61 L331.52,162.88 L333.24,163.16 L334.95,163.43 L336.66,163.72 L338.37,164.00 L340.09,164.29 L341.80,164.58 L343.51,164.87 L345.23,165.17 L346.94,165.47 L348.65,165.77 L350.36,166.07 L352.08,166.38 L353.79,166.69 L355.50,167.01 L357.22,167.33 L358.93,167.65 L360.64,167.98 L362.35,168.31 L364.07,168.64 L365.78,168.97 L367.49,169.31 L369.20,169.66 L370.92,170.00 L372.63,170.35 L374.34,170.71 L376.06,171.06 L377.77,171.43 L379.48,171.79 L381.19,172.16 L382.91,172.53 L384.62,172.91 L386.33,173.29 L388.05,173.67 L389.76,174.06 L391.47,174.45 L393.18,174.85 L394.90,175.25 L396.61,175.66 L398.32,176.06 L400.03,176.48 L401.75,176.89 L403.46,177.32 L405.17,177.74 L406.89,178.17 L408.60,178.61 L410.31,179.04 L412.02,179.49 L413.74,179.94 L415.45,180.39 L417.16,180.84 L418.88,181.31 L420.59,181.77 L422.30,182.24 L424.01,182.72 L425.73,183.20 L427.44,183.68 L429.15,184.17 L430.86,184.67 L432.58,185.17 L434.29,185.67 L436.00,186.18 L437.72,186.69 L439.43,187.21 L441.14,187.74 L442.85,188.27 L444.57,188.80 L446.28,189.34 L447.99,189.89 L449.71,190.44 L451.42,190.99 L453.13,191.55 L454.84,192.12 L456.56,192.69 L458.27,193.27 L459.98,193.85 L461.69,194.44 L463.41,195.03 L465.12,195.63 L466.83,196.24 L468.55,196.85 L470.26,197.47 L471.97,198.09 L473.68,198.72 L475.40,199.35 L477.11,200.00 L478.82,200.64 L480.54,201.29 L482.25,201.95 L483.96,202.62 L485.67,203.29 L487.39,203.96 L489.10,204.65 L490.81,205.34 L492.52,206.03 L494.24,206.74 L495.95,207.44 L497.66,208.16 L499.38,208.88 L501.09,209.61 L502.80,210.34 L504.51,211.08 L506.23,211.83 L507.94,212.58 L509.65,213.34 L511.37,214.11 L513.08,214.89 L514.79,215.67 L516.50,216.45 L518.22,217.25 L519.93,218.05 L521.64,218.86 L523.35,219.67 L525.07,220.50 L526.78,221.32 L528.49,222.16 L530.21,223.00 L531.92,223.85 L533.63,224.71 L535.34,225.58 L537.06,226.45 L538.77,227.33 L540.48,228.21 L542.20,229.11 L543.91,230.01 L545.62,230.92 L547.33,231.83 L549.05,232.76 L550.76,233.69 L552.47,234.63 L554.18,235.57 L555.90,236.53 L557.61,237.49 L559.32,238.45 L561.04,239.43 L562.75,240.41 L564.46,241.40 L566.17,242.40 L567.89,243.41 L569.60,244.42 L571.31,245.45 L573.03,246.47 L574.74,247.51 L576.45,248.56 L578.16,249.61 L579.88,250.67 L581.59,251.74 L583.30,252.81 L585.02,253.90 L586.73,254.99 L588.44,256.09 L590.15,257.20 L591.87,258.31 L593.58,259.44 L595.29,260.57 L597.00,261.70 L598.72,262.85 L600.43,264.01 L602.14,265.17 L603.86,266.34 L605.57,267.52 L607.28,268.70 L608.99,269.90 L610.71,271.10 L612.42,272.31 L614.13,273.52 L615.85,274.75 L617.56,275.98 L619.27,277.22 L620.98,278.47 L622.70,279.73 L624.41,280.99 L626.12,282.26 L627.83,283.54 L629.55,284.83 L631.26,286.12 L632.97,287.42 L634.69,288.73 L636.40,290.05 L638.11,291.37 L639.82,292.71 L641.54,294.05 L643.25,295.39 L644.96,296.75 L646.68,298.11 L648.39,299.48 L650.10,300.86 L651.81,302.24 L653.53,303.63 L655.24,305.03 L656.95,306.43 L658.66,307.85 L660.38,309.27 L662.09,310.69 L663.80,312.13 L665.52,313.57 L667.23,315.01 L668.94,316.47 L670.65,317.93 L672.37,319.39 L674.08,320.87 L675.79,322.35 L677.51,323.83 L679.22,325.32 L680.93,326.82 L682.64,328.33 L684.36,329.84 L686.07,331.36 L687.78,332.88 L689.49,334.41 L691.21,335.94 L692.92,337.48 L694.63,339.03 L696.35,340.58 L698.06,342.14 L699.77,343.70 L701.48,345.27 L703.20,346.84 L704.91,348.42 L706.62,350.00 L708.34,351.59 L710.05,353.18 L711.76,354.78 L713.47,356.38 L715.19,357.99 L716.90,359.60 L718.61,361.21 L720.32,362.83 L722.04,364.45 L723.75,366.08 L725.46,367.71 L727.18,369.35 L728.89,370.99 L730.60,372.63 L732.31,374.27 L734.03,375.92 L735.74,377.57 L737.45,379.22 L739.17,380.88 L740.88,382.54 L742.59,384.20 L744.30,385.87 L746.02,387.53 L747.73,389.20 L749.44,390.87 L751.15,392.55 L752.87,394.22 L754.58,395.90 L756.29,397.58 L758.01,399.26 L759.72,400.94 L761.43,402.62 L763.14,404.30 L764.86,405.98 L766.57,407.67 L768.28,409.35 L770.00,411.04 L771.71,412.72 L773.42,414.41 L775.13,416.10 L776.85,417.78 L778.56,419.47 L780.27,421.15 L781.98,422.84 L783.70,424.52 L785.41,426.20 L787.12,427.89 L788.84,429.57 L790.55,431.25 L792.26,432.92 L793.97,434.60 L795.69,436.28 L797.40,437.95" fill="none" stroke="#009900" stroke-width="2.5" stroke-dasharray="14.8 7.4"/>
<path d="M114.00,167.52 L115.71,167.57 L117.43,167.62 L119.14,167.68 L120.85,167.73 L122.56,167.79 L124.28,167.84 L125.99,167.90 L127.70,167.96 L129.42,168.01 L131.13,168.07 L132.84,168.13 L134.55,168.19 L136.27,168.25 L137.98,168.31 L139.69,168.38 L141.40,168.44 L143.12,168.50 L144.83,168.57 L146.54,168.63 L148.26,168.70 L149.97,168.76 L151.68,168.83 L153.39,168.90 L155.11,168.97 L156.82,169.04 L158.53,169.11 L160.25,169.18 L161.96,169.25 L163.67,169.32 L165.38,169.40 L167.10,169.47 L168.81,169.55 L170.52,169.62 L172.23,169.70 L173.95,169.78 L175.66,169.86 L177.37,169.94 L179.09,170.02 L180.80,170.10 L182.51,170.18 L184.22,170.27 L185.94,170.35 L187.65,170.44 L189.36,170.52 L191.08,170.61 L192.79,170.70 L194.50,170.79 L196.21,170.88 L197.93,170.97 L199.64,171.07 L201.35,171.16 L203.06,171.25 L204.78,171.35 L206.49,171.45 L208.20,171.55 L209.92,171.64 L211.63,171.75 L213.34,171.85 L215.05,171.95 L216.77,172.05 L218.48,172.16 L220.19,172.27 L221.91,172.37 L223.62,172.48 L225.33,172.59 L227.04,172.70 L228.76,172.82 L230.47,172.93 L232.18,173.05 L233.89,173.16 L235.61,173.28 L237.32,173.40 L239.03,173.52 L240.75,173.64 L242.46,173.76 L244.17,173.89 L245.88,174.02 L247.60,174.14 L249.31,174.27 L251.02,174.40 L252.74,174.53 L254.45,174.67 L256.16,174.80 L257.87,174.94 L259.59,175.08 L261.30,175.22 L263.01,175.36 L264.72,175.50 L266.44,175.64 L268.15,175.79 L269.86,175.94 L271.58,176.09 L273.29,176.24 L275.00,176.39 L276.71,176.55 L278.43,176.70 L280.14,176.86 L281.85,177.02 L283.57,177.18 L285.28,177.34 L286.99,177.51 L288.70,177.68 L290.42,177.84 L292.13,178.01 L293.84,178.19 L295.55,178.36 L297.27,178.54 L298.98,178.72 L300.69,178.90 L302.41,179.08 L304.12,179.26 L305.83,179.45 L307.54,179.64 L309.26,179.83 L310.97,180.02 L312.68,180.22 L314.40,180.41 L316.11,180.61 L317.82,180.81 L319.53,181.02 L321.25,181.22 L322.96,181.43 L324.67,181.64 L326.38,181.86 L328.10,182.07 L329.81,182.29 L331.52,182.51 L333.24,182.73 L334.95,182.96 L336.66,183.18 L338.37,183.41 L340.09,183.64 L341.80,183.88 L343.51,184.12 L345.23,184.36 L346.94,184.60 L348.65,184.84 L350.36,185.09 L352.08,185.34 L353.79,185.60 L355.50,185.85 L357.22,186.11 L358.93,186.37 L360.64,186.64 L362.35,186.90 L364.07,187.17 L365.78,187.45 L367.49,187.72 L369.20,188.00 L370.92,188.28 L372.63,188.57 L374.34,188.86 L376.06,189.15 L377.77,189.44 L379.48,189.74 L381.19,190.04 L382.91,190.35 L384.62,190.65 L386.33,190.96 L388.05,191.28 L389.76,191.59 L391.47,191.92 L393.18,192.24 L394.90,192.57 L396.61,192.90 L398.32,193.23 L400.03,193.57 L401.75,193.88 L403.46,194.20 L405.17,194.53 L406.89,194.85 L408.60,195.18 L410.31,195.52 L412.02,195.85 L413.74,196.19 L415.45,196.54 L417.16,196.89 L418.88,197.24 L420.59,197.60 L422.30,197.96 L424.01,198.32 L425.73,198.69 L427.44,199.07 L429.15,199.44 L430.86,199.82 L432.58,200.21 L434.29,200.60 L436.00,200.99 L437.72,201.39 L439.43,201.79 L441.14,202.20 L442.85,202.61 L444.57,203.03 L446.28,203.45 L447.99,203.88 L449.71,204.30 L451.42,204.74 L453.13,205.18 L454.84,205.62 L456.56,206.07 L458.27,206.52 L459.98,206.98 L461.69,207.44 L463.41,207.91 L465.12,208.39 L466.83,208.86 L468.55,209.35 L470.26,209.83 L471.97,210.33 L473.68,210.83 L475.40,211.33 L477.11,211.84 L478.82,212.35 L480.54,212.87 L482.25,213.40 L483.96,213.93 L485.67,214.46 L487.39,215.00 L489.10,215.55 L490.81,216.10 L492.52,216.66 L494.24,217.22 L495.95,217.79 L497.66,218.37 L499.38,218.95 L501.09,219.53 L502.80,220.12 L504.51,220.72 L506.23,221.33 L507.94,221.94 L509.65,222.55 L511.37,223.18 L513.08,223.80 L514.79,224.44 L516.50,225.08 L518.22,225.73 L519.93,226.38 L521.64,227.07 L523.35,227.76 L525.07,228.46 L526.78,229.17 L528.49,229.88 L530.21,230.60 L531.92,231.33 L533.63,232.06 L535.34,232.80 L537.06,233.54 L538.77,234.30 L540.48,235.06 L542.20,235.82 L543.91,236.60 L545.62,237.38 L547.33,238.16 L549.05,238.96 L550.76,239.76 L552.47,240.57 L554.18,241.38 L555.90,242.21 L557.61,243.04 L559.32,243.87 L561.04,244.72 L562.75,245.57 L564.46,246.43 L566.17,247.30 L567.89,248.17 L569.60,249.05 L571.31,249.94 L573.03,250.84 L574.74,251.74 L576.45,252.65 L578.16,253.57 L579.88,254.50 L581.59,255.43 L583.30,256.37 L585.02,257.32 L586.73,258.28 L588.44,259.24 L590.15,260.22 L591.87,261.20 L593.58,262.19 L595.29,263.18 L597.00,264.19 L598.72,265.20 L600.43,266.22 L602.14,267.25 L603.86,268.29 L605.57,269.33 L607.28,270.38 L608.99,271.44 L610.71,272.51 L612.42,273.59 L614.13,274.67 L615.85,275.77 L617.56,276.87 L619.27,277.98 L620.98,279.09 L622.70,280.22 L624.41,281.35 L626.12,282.50 L627.83,283.65 L629.55,284.81 L631.26,285.97 L632.97,287.15 L634.69,288.33 L636.40,289.52 L638.11,290.72 L639.82,291.93 L641.54,293.14 L643.25,294.37 L644.96,295.60 L646.68,296.84 L648.39,298.09 L650.10,299.35 L651.81,300.61 L653.53,301.89 L655.24,303.17 L656.95,304.46 L658.66,305.76 L660.38,307.06 L662.09,308.37 L663.80,309.70 L665.52,311.03 L667.23,312.36 L668.94,313.71 L670.65,315.06 L672.37,316.42 L674.08,317.79 L675.79,319.17 L677.51,320.55 L679.22,321.94 L680.93,323.34 L682.64,324.75 L684.36,326.17 L686.07,327.59 L687.78,329.02 L689.49,330.45 L691.21,331.90 L692.92,333.35 L694.63,334.81 L696.35,336.27 L698.06,337.74 L699.77,339.22 L701.48,340.71 L703.20,342.20 L704.91,343.70 L706.62,345.21 L708.34,346.72 L710.05,348.24 L711.76,349.76 L713.47,351.29 L715.19,352.83 L716.90,354.37 L718.61,355.92 L720.32,357.47 L722.04,359.03 L723.75,360.59 L725.46,362.16 L727.18,363.74 L728.89,365.32 L730.60,366.90 L732.31,368.49 L734.03,370.08 L735.74,371.68 L737.45,373.28 L739.17,374.89 L740.88,376.50 L742.59,378.11 L744.30,379.72 L746.02,381.34 L747.73,382.96 L749.44,384.59 L751.15,386.22 L752.87,387.85 L754.58,389.48 L756.29,391.11 L758.01,392.75 L759.72,394.38 L761.43,396.02 L763.14,397.66 L764.86,399.30 L766.57,400.93 L768.28,402.57 L770.00,404.21 L771.71,405.85 L773.42,407.49 L775.13,409.12 L776.85,410.76 L778.56,412.39 L780.27,414.02 L781.98,415.65 L783.70,417.27 L785.41,418.90 L787.12,420.51 L788.84,422.13 L790.55,423.74 L792.26,425.34 L793.97,426.94 L795.69,428.54 L797.40,430.12" fill="none" stroke="#009900" stroke-width="2.5" stroke-dasharray="14.9 7.0 3.75 7.0"/>
<path d="M114.00,218.08 L115.71,218.07 L117.43,218.06 L119.14,218.05 L120.85,218.05 L122.56,218.04 L124.28,218.03 L125.99,218.02 L127.70,218.01 L129.42,218.01 L131.13,218.00 L132.84,217.99 L134.55,217.98 L136.27,217.98 L137.98,217.97 L139.69,217.96 L141.40,217.95 L143.12,217.94 L144.83,217.94 L146.54,217.93 L148.26,217.92 L149.97,217.91 L151.68,217.90 L153.39,217.89 L155.11,217.89 L156.82,217.88 L158.53,217.87 L160.25,217.86 L161.96,217.85 L163.67,217.84 L165.38,217.84 L167.10,217.83 L168.81,217.82 L170.52,217.81 L172.23,217.80 L173.95,217.79 L175.66,217.78 L177.37,217.78 L179.09,217.77 L180.80,217.76 L182.51,217.75 L184.22,217.74 L185.94,217.73 L187.65,217.72 L189.36,217.71 L191.08,217.70 L192.79,217.70 L194.50,217.69 L196.21,217.68 L197.93,217.67 L199.64,217.66 L201.35,217.65 L203.06,217.64 L204.78,217.63 L206.49,217.62 L208.20,217.61 L209.92,217.60 L211.63,217.60 L213.34,217.59 L215.05,217.58 L216.77,217.57 L218.48,217.56 L220.19,217.55 L221.91,217.54 L223.62,217.53 L225.33,217.52 L227.04,217.51 L228.76,217.51 L230.47,217.50 L232.18,217.49 L233.89,217.48 L235.61,217.47 L237.32,217.46 L239.03,217.45 L240.75,217.44 L242.46,217.44 L244.17,217.43 L245.88,217.42 L247.60,217.41 L249.31,217.40 L251.02,217.39 L252.74,217.38 L254.45,217.38 L256.16,217.37 L257.87,217.36 L259.59,217.35 L261.30,217.34 L263.01,217.34 L264.72,217.33 L266.44,217.32 L268.15,217.31 L269.86,217.31 L271.58,217.30 L273.29,217.29 L275.00,217.28 L276.71,217.28 L278.43,217.27 L280.14,217.26 L281.85,217.26 L283.57,217.25 L285.28,217.25 L286.99,217.24 L288.70,217.23 L290.42,217.23 L292.13,217.22 L293.84,217.22 L295.55,217.21 L297.27,217.21 L298.98,217.21 L300.69,217.20 L302.41,217.20 L304.12,217.19 L305.83,217.19 L307.54,217.19 L309.26,217.18 L310.97,217.18 L312.68,217.18 L314.40,217.18 L316.11,217.18 L317.82,217.18 L319.53,217.18 L321.25,217.18 L322.96,217.18 L324.67,217.18 L326.38,217.18 L328.10,217.18 L329.81,217.18 L331.52,217.18 L333.24,217.19 L334.95,217.19 L336.66,217.19 L338.37,217.20 L340.09,217.20 L341.80,217.21 L343.51,217.21 L345.23,217.22 L346.94,217.23 L348.65,217.24 L350.36,217.24 L352.08,217.25 L353.79,217.26 L355.50,217.27 L357.22,217.29 L358.93,217.30 L360.64,217.31 L362.35,217.33 L364.07,217.34 L365.78,217.36 L367.49,217.37 L369.20,217.39 L370.92,217.41 L372.63,217.43 L374.34,217.45 L376.06,217.47 L377.77,217.49 L379.48,217.52 L381.19,217.54 L382.91,217.57 L384.62,217.59 L386.33,217.62 L388.05,217.65 L389.76,217.68 L391.47,217.71 L393.18,217.75 L394.90,217.78 L396.61,217.82 L398.32,217.86 L400.03,217.89 L401.75,217.94 L403.46,217.98 L405.17,218.02 L406.89,218.07 L408.60,218.12 L410.31,218.16 L412.02,218.22 L413.74,218.27 L415.45,218.32 L417.16,218.38 L418.88,218.44 L420.59,218.50 L422.30,218.56 L424.01,218.63 L425.73,218.70 L427.44,218.77 L429.15,218.84 L430.86,218.92 L432.58,218.99 L434.29,219.07 L436.00,219.16 L437.72,219.24 L439.43,219.33 L441.14,219.42 L442.85,219.51 L444.57,219.61 L446.28,219.71 L447.99,219.81 L449.71,219.92 L451.42,220.03 L453.13,220.14 L454.84,220.26 L456.56,220.38 L458.27,220.50 L459.98,220.63 L461.69,220.69 L463.41,220.75 L465.12,220.81 L466.83,220.88 L468.55,220.95 L470.26,221.03 L471.97,221.11 L473.68,221.20 L475.40,221.29 L477.11,221.38 L478.82,221.48 L480.54,221.58 L482.25,221.69 L483.96,221.81 L485.67,221.93 L487.39,222.06 L489.10,222.19 L490.81,222.31 L492.52,222.43 L494.24,222.55 L495.95,222.68 L497.66,222.82 L499.38,222.96 L501.09,223.11 L502.80,223.27 L504.51,223.43 L506.23,223.61 L507.94,223.88 L509.65,224.15 L511.37,224.43 L513.08,224.72 L514.79,225.01 L516.50,225.32 L518.22,225.63 L519.93,225.95 L521.64,226.28 L523.35,226.62 L525.07,226.97 L526.78,227.33 L528.49,227.69 L530.21,228.07 L531.92,228.45 L533.63,228.85 L535.34,229.26 L537.06,229.67 L538.77,230.10 L540.48,230.54 L542.20,230.99 L543.91,231.45 L545.62,231.92 L547.33,232.41 L549.05,232.90 L550.76,233.41 L552.47,233.94 L554.18,234.47 L555.90,235.02 L557.61,235.58 L559.32,236.15 L561.04,236.65 L562.75,237.10 L564.46,237.57 L566.17,238.05 L567.89,238.55 L569.60,239.06 L571.31,239.70 L573.03,240.39 L574.74,241.09 L576.45,241.81 L578.16,242.55 L579.88,243.31 L581.59,244.08 L583.30,244.87 L585.02,245.68 L586.73,246.50 L588.44,247.35 L590.15,248.21 L591.87,249.10 L593.58,250.00 L595.29,250.92 L597.00,251.86 L598.72,252.83 L600.43,253.81 L602.14,254.81 L603.86,255.84 L605.57,256.89 L607.28,257.96 L608.99,259.05 L610.71,260.16 L612.42,261.29 L614.13,262.44 L615.85,263.62 L617.56,264.81 L619.27,266.04 L620.98,267.28 L622.70,268.55 L624.41,269.85 L626.12,271.17 L627.83,272.52 L629.55,273.89 L631.26,275.29 L632.97,276.72 L634.69,278.17 L636.40,279.65 L638.11,281.15 L639.82,282.69 L641.54,284.25 L643.25,285.84 L644.96,287.46 L646.68,289.10 L648.39,290.78 L650.10,292.48 L651.81,294.21 L653.53,295.97 L655.24,297.76 L656.95,299.58 L658.66,301.42 L660.38,303.30 L662.09,305.20 L663.80,307.14 L665.52,309.10 L667.23,311.06 L668.94,313.06 L670.65,315.09 L672.37,317.15 L674.08,319.23 L675.79,321.35 L677.51,323.49 L679.22,325.66 L680.93,327.86 L682.64,330.09 L684.36,332.34 L686.07,334.63 L687.78,336.94 L689.49,339.27 L691.21,341.64 L692.92,344.03 L694.63,346.44 L696.35,348.88 L698.06,351.35 L699.77,353.83 L701.48,356.35 L703.20,358.88 L704.91,361.44 L706.62,364.01 L708.34,366.61 L710.05,369.23 L711.76,371.86 L713.47,374.52 L715.19,377.19 L716.90,379.88 L718.61,382.58 L720.32,385.29 L722.04,388.02 L723.75,390.76 L725.46,393.51 L727.18,396.27 L728.89,399.04 L730.60,401.82 L732.31,404.60 L734.03,407.39 L735.74,410.18 L737.45,412.97 L739.17,415.76 L740.88,418.55 L742.59,421.34 L744.30,424.13 L746.02,426.91 L747.73,429.69 L749.44,432.46 L751.15,435.22 L752.87,437.98 L754.58,440.72 L756.29,443.45 L758.01,446.18 L759.72,448.88 L761.43,451.58 L763.14,454.26 L764.86,456.93 L766.57,459.59 L768.28,462.23 L770.00,464.86 L771.71,467.47 L773.42,470.06 L775.13,472.65 L776.85,475.23 L778.56,477.80 L780.27,480.36 L781.98,482.92 L783.70,485.48 L785.41,488.04 L787.12,490.61 L788.84,493.19 L790.55,495.79 L792.26,498.42 L793.97,501.07 L795.69,503.77 L797.40,506.51" fill="none" stroke="#009900" stroke-width="2.5" stroke-dasharray="2.5 6.815"/>
<path d="M114.00,184.40 L115.71,184.44 L117.43,184.49 L119.14,184.54 L120.85,184.59 L122.56,184.64 L124.28,184.69 L125.99,184.74 L127.70,184.79 L129.42,184.84 L131.13,184.89 L132.84,184.95 L134.55,185.00 L136.27,185.06 L137.98,185.11 L139.69,185.17 L141.40,185.22 L143.12,185.28 L144.83,185.34 L146.54,185.39 L148.26,185.45 L149.97,185.51 L151.68,185.57 L153.39,185.63 L155.11,185.69 L156.82,185.76 L158.53,185.82 L160.25,185.88 L161.96,185.95 L163.67,186.01 L165.38,186.08 L167.10,186.14 L168.81,186.21 L170.52,186.28 L172.23,186.35 L173.95,186.42 L175.66,186.49 L177.37,186.56 L179.09,186.63 L180.80,186.70 L182.51,186.78 L184.22,186.85 L185.94,186.93 L187.65,187.00 L189.36,187.08 L191.08,187.16 L192.79,187.24 L194.50,187.32 L196.21,187.40 L197.93,187.48 L199.64,187.56 L201.35,187.64 L203.06,187.73 L204.78,187.81 L206.49,187.90 L208.20,187.99 L209.92,188.07 L211.63,188.16 L213.34,188.25 L215.05,188.34 L216.77,188.44 L218.48,188.53 L220.19,188.62 L221.91,188.72 L223.62,188.82 L225.33,188.91 L227.04,189.01 L228.76,189.11 L230.47,189.21 L232.18,189.31 L233.89,189.42 L235.61,189.52 L237.32,189.63 L239.03,189.73 L240.75,189.84 L242.46,189.95 L244.17,190.06 L245.88,190.17 L247.60,190.28 L249.31,190.40 L251.02,190.51 L252.74,190.63 L254.45,190.75 L256.16,190.87 L257.87,190.99 L259.59,191.11 L261.30,191.23 L263.01,191.35 L264.72,191.48 L266.44,191.61 L268.15,191.74 L269.86,191.87 L271.58,192.00 L273.29,192.13 L275.00,192.27 L276.71,192.40 L278.43,192.54 L280.14,192.68 L281.85,192.82 L283.57,192.96 L285.28,193.10 L286.99,193.25 L288.70,193.40 L290.42,193.54 L292.13,193.69 L293.84,193.85 L295.55,194.00 L297.27,194.15 L298.98,194.31 L300.69,194.47 L302.41,194.63 L304.12,194.79 L305.83,194.96 L307.54,195.12 L309.26,195.29 L310.97,195.46 L312.68,195.63 L314.40,195.80 L316.11,195.98 L317.82,196.15 L319.53,196.33 L321.25,196.51 L322.96,196.70 L324.67,196.88 L326.38,197.07 L328.10,197.26 L329.81,197.45 L331.52,197.64 L333.24,197.84 L334.95,198.03 L336.66,198.23 L338.37,198.43 L340.09,198.64 L341.80,198.84 L343.51,199.05 L345.23,199.26 L346.94,199.47 L348.65,199.69 L350.36,199.90 L352.08,200.12 L353.79,200.35 L355.50,200.57 L357.22,200.80 L358.93,201.03 L360.64,201.26 L362.35,201.49 L364.07,201.73 L365.78,201.97 L367.49,202.21 L369.20,202.45 L370.92,202.70 L372.63,202.95 L374.34,203.20 L376.06,203.45 L377.77,203.71 L379.48,203.97 L381.19,204.24 L382.91,204.50 L384.62,204.77 L386.33,205.04 L388.05,205.31 L389.76,205.59 L391.47,205.87 L393.18,206.15 L394.90,206.44 L396.61,206.73 L398.32,207.02 L400.03,207.32 L401.75,207.61 L403.46,207.92 L405.17,208.22 L406.89,208.53 L408.60,208.84 L410.31,209.15 L412.02,209.47 L413.74,209.79 L415.45,210.11 L417.16,210.44 L418.88,210.77 L420.59,211.10 L422.30,211.44 L424.01,211.78 L425.73,212.13 L427.44,212.47 L429.15,212.83 L430.86,213.18 L432.58,213.54 L434.29,213.90 L436.00,214.27 L437.72,214.64 L439.43,215.01 L441.14,215.39 L442.85,215.77 L444.57,216.15 L446.28,216.54 L447.99,216.94 L449.71,217.33 L451.42,217.73 L453.13,218.14 L454.84,218.55 L456.56,218.96 L458.27,219.38 L459.98,219.80 L461.69,220.22 L463.41,220.65 L465.12,221.08 L466.83,221.52 L468.55,221.96 L470.26,222.41 L471.97,222.86 L473.68,223.32 L475.40,223.78 L477.11,224.24 L478.82,224.71 L480.54,225.18 L482.25,225.66 L483.96,226.14 L485.67,226.63 L487.39,227.12 L489.10,227.62 L490.81,228.12 L492.52,228.63 L494.24,229.14 L495.95,229.65 L497.66,230.17 L499.38,230.70 L501.09,231.23 L502.80,231.77 L504.51,232.31 L506.23,232.85 L507.94,233.40 L509.65,233.96 L511.37,234.52 L513.08,235.09 L514.79,235.66 L516.50,236.24 L518.22,236.82 L519.93,237.41 L521.64,238.00 L523.35,238.60 L525.07,239.20 L526.78,239.81 L528.49,240.43 L530.21,241.05 L531.92,241.67 L533.63,242.30 L535.34,242.94 L537.06,243.59 L538.77,244.23 L540.48,244.89 L542.20,245.55 L543.91,246.22 L545.62,246.89 L547.33,247.57 L549.05,248.25 L550.76,248.94 L552.47,249.64 L554.18,250.34 L555.90,251.04 L557.61,251.76 L559.32,252.48 L561.04,253.21 L562.75,253.94 L564.46,254.68 L566.17,255.42 L567.89,256.17 L569.60,256.93 L571.31,257.69 L573.03,258.46 L574.74,259.24 L576.45,260.02 L578.16,260.81 L579.88,261.61 L581.59,262.41 L583.30,263.22 L585.02,264.03 L586.73,264.86 L588.44,265.68 L590.15,266.52 L591.87,267.36 L593.58,268.21 L595.29,269.06 L597.00,269.92 L598.72,270.79 L600.43,271.67 L602.14,272.55 L603.86,273.44 L605.57,274.33 L607.28,275.23 L608.99,276.14 L610.71,277.06 L612.42,277.98 L614.13,278.91 L615.85,279.85 L617.56,280.79 L619.27,281.74 L620.98,282.70 L622.70,283.66 L624.41,284.63 L626.12,285.61 L627.83,286.59 L629.55,287.58 L631.26,288.58 L632.97,289.58 L634.69,290.60 L636.40,291.62 L638.11,292.64 L639.82,293.67 L641.54,294.71 L643.25,295.76 L644.96,296.81 L646.68,297.88 L648.39,298.94 L650.10,300.02 L651.81,301.10 L653.53,302.19 L655.24,303.28 L656.95,304.38 L658.66,305.49 L660.38,306.61 L662.09,307.73 L663.80,308.86 L665.52,310.00 L667.23,311.14 L668.94,312.29 L670.65,313.44 L672.37,314.61 L674.08,315.78 L675.79,316.95 L677.51,318.14 L679.22,319.33 L680.93,320.52 L682.64,321.73 L684.36,322.94 L686.07,324.15 L687.78,325.37 L689.49,326.60 L691.21,327.84 L692.92,329.08 L694.63,330.33 L696.35,331.58 L698.06,332.84 L699.77,334.10 L701.48,335.38 L703.20,336.65 L704.91,337.94 L706.62,339.23 L708.34,340.52 L710.05,341.83 L711.76,343.13 L713.47,344.45 L715.19,345.76 L716.90,347.09 L718.61,348.42 L720.32,349.75 L722.04,351.09 L723.75,352.44 L725.46,353.79 L727.18,355.14 L728.89,356.50 L730.60,357.87 L732.31,359.24 L734.03,360.61 L735.74,361.99 L737.45,363.38 L739.17,364.77 L740.88,366.16 L742.59,367.56 L744.30,368.96 L746.02,370.36 L747.73,371.77 L749.44,373.18 L751.15,374.60 L752.87,376.02 L754.58,377.44 L756.29,378.87 L758.01,380.30 L759.72,381.73 L761.43,383.17 L763.14,384.60 L764.86,386.05 L766.57,387.49 L768.28,388.93 L770.00,390.38 L771.71,391.83 L773.42,393.28 L775.13,394.74 L776.85,396.19 L778.56,397.65 L780.27,399.10 L781.98,400.56 L783.70,402.02 L785.41,403.48 L787.12,404.94 L788.84,406.40 L790.55,407.86 L792.26,409.32 L793.97,410.78 L795.69,412.24 L797.40,413.70" fill="none" stroke="#0000ff" stroke-width="2.5"/>
<path d="M114.00,158.63 L115.71,158.69 L117.43,158.75 L119.14,158.82 L120.85,158.88 L122.56,158.95 L124.28,159.01 L125.99,159.08 L127.70,159.14 L129.42,159.21 L131.13,159.28 L132.84,159.35 L134.55,159.42 L136.27,159.49 L137.98,159.56 L139.69,159.64 L141.40,159.71 L143.12,159.79 L144.83,159.86 L146.54,159.94 L148.26,160.01 L149.97,160.09 L151.68,160.17 L153.39,160.25 L155.11,160.33 L156.82,160.41 L158.53,160.50 L160.25,160.58 L161.96,160.66 L163.67,160.75 L165.38,160.83 L167.10,160.92 L168.81,161.01 L170.52,161.10 L172.23,161.19 L173.95,161.28 L175.66,161.37 L177.37,161.47 L179.09,161.56 L180.80,161.66 L182.51,161.75 L184.22,161.85 L185.94,161.95 L187.65,162.05 L189.36,162.15 L191.08,162.25 L192.79,162.35 L194.50,162.46 L196.21,162.56 L197.93,162.67 L199.64,162.78 L201.35,162.89 L203.06,163.00 L204.78,163.11 L206.49,163.22 L208.20,163.34 L209.92,163.45 L211.63,163.57 L213.34,163.69 L215.05,163.81 L216.77,163.93 L218.48,164.05 L220.19,164.17 L221.91,164.30 L223.62,164.42 L225.33,164.55 L227.04,164.68 L228.76,164.81 L230.47,164.94 L232.18,165.07 L233.89,165.21 L235.61,165.35 L237.32,165.48 L239.03,165.62 L240.75,165.76 L242.46,165.91 L244.17,166.05 L245.88,166.20 L247.60,166.34 L249.31,166.49 L251.02,166.64 L252.74,166.79 L254.45,166.95 L256.16,167.10 L257.87,167.26 L259.59,167.42 L261.30,167.58 L263.01,167.74 L264.72,167.91 L266.44,168.07 L268.15,168.24 L269.86,168.41 L271.58,168.58 L273.29,168.76 L275.00,168.93 L276.71,169.11 L278.43,169.29 L280.14,169.47 L281.85,169.65 L283.57,169.84 L285.28,170.03 L286.99,170.22 L288.70,170.41 L290.42,170.60 L292.13,170.80 L293.84,171.00 L295.55,171.20 L297.27,171.40 L298.98,171.60 L300.69,171.81 L302.41,172.02 L304.12,172.23 L305.83,172.44 L307.54,172.66 L309.26,172.88 L310.97,173.10 L312.68,173.32 L314.40,173.55 L316.11,173.77 L317.82,174.00 L319.53,174.24 L321.25,174.47 L322.96,174.71 L324.67,174.95 L326.38,175.19 L328.10,175.44 L329.81,175.69 L331.52,175.94 L333.24,176.19 L334.95,176.45 L336.66,176.70 L338.37,176.97 L340.09,177.23 L341.80,177.50 L343.51,177.77 L345.23,178.04 L346.94,178.32 L348.65,178.60 L350.36,178.88 L352.08,179.16 L353.79,179.45 L355.50,179.74 L357.22,180.03 L358.93,180.33 L360.64,180.63 L362.35,180.93 L364.07,181.24 L365.78,181.55 L367.49,181.86 L369.20,182.18 L370.92,182.50 L372.63,182.82 L374.34,183.15 L376.06,183.48 L377.77,183.81 L379.48,184.15 L381.19,184.49 L382.91,184.83 L384.62,185.18 L386.33,185.53 L388.05,185.88 L389.76,186.24 L391.47,186.60 L393.18,186.97 L394.90,187.34 L396.61,187.71 L398.32,188.09 L400.03,188.47 L401.75,188.85 L403.46,189.24 L405.17,189.63 L406.89,190.03 L408.60,190.43 L410.31,190.83 L412.02,191.24 L413.74,191.65 L415.45,192.07 L417.16,192.49 L418.88,192.92 L420.59,193.35 L422.30,193.78 L424.01,194.22 L425.73,194.66 L427.44,195.11 L429.15,195.56 L430.86,196.01 L432.58,196.47 L434.29,196.94 L436.00,197.41 L437.72,197.88 L439.43,198.36 L441.14,198.84 L442.85,199.33 L444.57,199.82 L446.28,200.32 L447.99,200.83 L449.71,201.33 L451.42,201.84 L453.13,202.36 L454.84,202.88 L456.56,203.41 L458.27,203.94 L459.98,204.48 L461.69,205.02 L463.41,205.57 L465.12,206.12 L466.83,206.68 L468.55,207.25 L470.26,207.81 L471.97,208.39 L473.68,208.97 L475.40,209.55 L477.11,210.14 L478.82,210.74 L480.54,211.34 L482.25,211.95 L483.96,212.56 L485.67,213.18 L487.39,213.80 L489.10,214.43 L490.81,215.07 L492.52,215.71 L494.24,216.36 L495.95,217.01 L497.66,217.67 L499.38,218.33 L501.09,219.00 L502.80,219.68 L504.51,220.36 L506.23,221.05 L507.94,221.75 L509.65,222.45 L511.37,223.16 L513.08,223.87 L514.79,224.59 L516.50,225.31 L518.22,226.05 L519.93,226.79 L521.64,227.53 L523.35,228.28 L525.07,229.04 L526.78,229.80 L528.49,230.58 L530.21,231.35 L531.92,232.14 L533.63,232.93 L535.34,233.72 L537.06,234.53 L538.77,235.34 L540.48,236.16 L542.20,236.98 L543.91,237.81 L545.62,238.65 L547.33,239.49 L549.05,240.34 L550.76,241.20 L552.47,242.07 L554.18,242.94 L555.90,243.82 L557.61,244.70 L559.32,245.59 L561.04,246.49 L562.75,247.40 L564.46,248.31 L566.17,249.24 L567.89,250.16 L569.60,251.10 L571.31,252.04 L573.03,252.99 L574.74,253.94 L576.45,254.91 L578.16,255.88 L579.88,256.86 L581.59,257.84 L583.30,258.83 L585.02,259.83 L586.73,260.84 L588.44,261.85 L590.15,262.87 L591.87,263.90 L593.58,264.94 L595.29,265.98 L597.00,267.03 L598.72,268.08 L600.43,269.15 L602.14,270.22 L603.86,271.30 L605.57,272.38 L607.28,273.48 L608.99,274.58 L610.71,275.69 L612.42,276.80 L614.13,277.92 L615.85,279.05 L617.56,280.19 L619.27,281.33 L620.98,282.48 L622.70,283.64 L624.41,284.80 L626.12,285.98 L627.83,287.16 L629.55,288.34 L631.26,289.54 L632.97,290.74 L634.69,291.94 L636.40,293.16 L638.11,294.38 L639.82,295.61 L641.54,296.84 L643.25,298.08 L644.96,299.33 L646.68,300.59 L648.39,301.85 L650.10,303.12 L651.81,304.39 L653.53,305.68 L655.24,306.96 L656.95,308.26 L658.66,309.56 L660.38,310.87 L662.09,312.18 L663.80,313.50 L665.52,314.83 L667.23,316.17 L668.94,317.50 L670.65,318.85 L672.37,320.20 L674.08,321.56 L675.79,322.92 L677.51,324.29 L679.22,325.67 L680.93,327.05 L682.64,328.44 L684.36,329.83 L686.07,331.23 L687.78,332.63 L689.49,334.04 L691.21,335.45 L692.92,336.87 L694.63,338.30 L696.35,339.73 L698.06,341.16 L699.77,342.60 L701.48,344.05 L703.20,345.50 L704.91,346.95 L706.62,348.41 L708.34,349.87 L710.05,351.34 L711.76,352.81 L713.47,354.28 L715.19,355.76 L716.90,357.25 L718.61,358.73 L720.32,360.23 L722.04,361.72 L723.75,363.22 L725.46,364.72 L727.18,366.23 L728.89,367.73 L730.60,369.25 L732.31,370.76 L734.03,372.28 L735.74,373.80 L737.45,375.32 L739.17,376.84 L740.88,378.37 L742.59,379.90 L744.30,381.43 L746.02,382.97 L747.73,384.50 L749.44,386.04 L751.15,387.58 L752.87,389.12 L754.58,390.66 L756.29,392.21 L758.01,393.75 L759.72,395.30 L761.43,396.85 L763.14,398.39 L764.86,399.94 L766.57,401.49 L768.28,403.04 L770.00,404.59 L771.71,406.14 L773.42,407.69 L775.13,409.24 L776.85,410.78 L778.56,412.33 L780.27,413.88 L781.98,415.43 L783.70,416.97 L785.41,418.52 L787.12,420.06 L788.84,421.61 L790.55,423.15 L792.26,424.69 L793.97,426.23 L795.69,427.76 L797.40,429.30" fill="none" stroke="#0000ff" stroke-width="2.5" stroke-dasharray="14.8 7.4"/>
<path d="M114.00,192.60 L115.71,192.64 L117.43,192.69 L119.14,192.73 L120.85,192.78 L122.56,192.83 L124.28,192.87 L125.99,192.92 L127.70,192.97 L129.42,193.01 L131.13,193.06 L132.84,193.11 L134.55,193.16 L136.27,193.21 L137.98,193.26 L139.69,193.32 L141.40,193.37 L143.12,193.42 L144.83,193.47 L146.54,193.53 L148.26,193.58 L149.97,193.64 L151.68,193.69 L153.39,193.75 L155.11,193.81 L156.82,193.86 L158.53,193.92 L160.25,193.98 L161.96,194.04 L163.67,194.10 L165.38,194.16 L167.10,194.22 L168.81,194.29 L170.52,194.35 L172.23,194.41 L173.95,194.48 L175.66,194.54 L177.37,194.61 L179.09,194.68 L180.80,194.74 L182.51,194.81 L184.22,194.88 L185.94,194.95 L187.65,195.02 L189.36,195.09 L191.08,195.17 L192.79,195.24 L194.50,195.31 L196.21,195.39 L197.93,195.46 L199.64,195.54 L201.35,195.62 L203.06,195.70 L204.78,195.77 L206.49,195.85 L208.20,195.94 L209.92,196.02 L211.63,196.10 L213.34,196.18 L215.05,196.27 L216.77,196.35 L218.48,196.44 L220.19,196.53 L221.91,196.62 L223.62,196.71 L225.33,196.80 L227.04,196.89 L228.76,196.98 L230.47,197.07 L232.18,197.17 L233.89,197.26 L235.61,197.36 L237.32,197.46 L239.03,197.56 L240.75,197.66 L242.46,197.76 L244.17,197.86 L245.88,197.96 L247.60,198.07 L249.31,198.17 L251.02,198.28 L252.74,198.39 L254.45,198.50 L256.16,198.61 L257.87,198.72 L259.59,198.83 L261.30,198.95 L263.01,199.06 L264.72,199.18 L266.44,199.30 L268.15,199.42 L269.86,199.54 L271.58,199.66 L273.29,199.79 L275.00,199.91 L276.71,200.04 L278.43,200.16 L280.14,200.29 L281.85,200.42 L283.57,200.56 L285.28,200.69 L286.99,200.82 L288.70,200.96 L290.42,201.10 L292.13,201.24 L293.84,201.38 L295.55,201.52 L297.27,201.66 L298.98,201.81 L300.69,201.96 L302.41,202.11 L304.12,202.26 L305.83,202.41 L307.54,202.56 L309.26,202.72 L310.97,202.88 L312.68,203.03 L314.40,203.20 L316.11,203.36 L317.82,203.52 L319.53,203.69 L321.25,203.86 L322.96,204.03 L324.67,204.20 L326.38,204.37 L328.10,204.55 L329.81,204.72 L331.52,204.90 L333.24,205.08 L334.95,205.27 L336.66,205.45 L338.37,205.64 L340.09,205.83 L341.80,206.02 L343.51,206.21 L345.23,206.41 L346.94,206.60 L348.65,206.80 L350.36,207.00 L352.08,207.21 L353.79,207.41 L355.50,207.62 L357.22,207.83 L358.93,208.04 L360.64,208.26 L362.35,208.48 L364.07,208.70 L365.78,208.92 L367.49,209.14 L369.20,209.37 L370.92,209.60 L372.63,209.83 L374.34,210.06 L376.06,210.30 L377.77,210.54 L379.48,210.78 L381.19,211.02 L382.91,211.27 L384.62,211.52 L386.33,211.77 L388.05,212.03 L389.76,212.28 L391.47,212.54 L393.18,212.81 L394.90,213.07 L396.61,213.34 L398.32,213.61 L400.03,213.88 L401.75,214.16 L403.46,214.44 L405.17,214.72 L406.89,215.01 L408.60,215.30 L410.31,215.59 L412.02,215.88 L413.74,216.18 L415.45,216.48 L417.16,216.78 L418.88,217.09 L420.59,217.40 L422.30,217.71 L424.01,218.03 L425.73,218.35 L427.44,218.67 L429.15,219.00 L430.86,219.33 L432.58,219.66 L434.29,219.99 L436.00,220.33 L437.72,220.68 L439.43,221.02 L441.14,221.37 L442.85,221.73 L444.57,222.08 L446.28,222.44 L447.99,222.81 L449.71,223.18 L451.42,223.55 L453.13,223.92 L454.84,224.30 L456.56,224.68 L458.27,225.07 L459.98,225.46 L461.69,225.86 L463.41,226.25 L465.12,226.66 L466.83,227.06 L468.55,227.47 L470.26,227.89 L471.97,228.30 L473.68,228.73 L475.40,229.15 L477.11,229.58 L478.82,230.02 L480.54,230.46 L482.25,230.90 L483.96,231.35 L485.67,231.80 L487.39,232.25 L489.10,232.72 L490.81,233.18 L492.52,233.65 L494.24,234.12 L495.95,234.60 L497.66,235.08 L499.38,235.57 L501.09,236.06 L502.80,236.56 L504.51,237.06 L506.23,237.57 L507.94,238.08 L509.65,238.59 L511.37,239.11 L513.08,239.64 L514.79,240.17 L516.50,240.70 L518.22,241.24 L519.93,241.79 L521.64,242.33 L523.35,242.89 L525.07,243.45 L526.78,244.01 L528.49,244.58 L530.21,245.16 L531.92,245.74 L533.63,246.32 L535.34,246.91 L537.06,247.51 L538.77,248.11 L540.48,248.72 L542.20,249.33 L543.91,249.94 L545.62,250.57 L547.33,251.19 L549.05,251.83 L550.76,252.47 L552.47,253.11 L554.18,253.76 L555.90,254.42 L557.61,255.08 L559.32,255.74 L561.04,256.41 L562.75,257.09 L564.46,257.78 L566.17,258.47 L567.89,259.16 L569.60,259.86 L571.31,260.57 L573.03,261.28 L574.74,262.00 L576.45,262.72 L578.16,263.45 L579.88,264.19 L581.59,264.93 L583.30,265.68 L585.02,266.43 L586.73,267.19 L588.44,267.96 L590.15,268.73 L591.87,269.51 L593.58,270.29 L595.29,271.08 L597.00,271.88 L598.72,272.68 L600.43,273.49 L602.14,274.30 L603.86,275.13 L605.57,275.95 L607.28,276.79 L608.99,277.63 L610.71,278.47 L612.42,279.32 L614.13,280.18 L615.85,281.05 L617.56,281.92 L619.27,282.80 L620.98,283.68 L622.70,284.57 L624.41,285.46 L626.12,286.37 L627.83,287.28 L629.55,288.19 L631.26,289.11 L632.97,290.04 L634.69,290.97 L636.40,291.91 L638.11,292.86 L639.82,293.81 L641.54,294.77 L643.25,295.74 L644.96,296.71 L646.68,297.69 L648.39,298.67 L650.10,299.67 L651.81,300.66 L653.53,301.67 L655.24,302.68 L656.95,303.69 L658.66,304.71 L660.38,305.74 L662.09,306.78 L663.80,307.82 L665.52,308.86 L667.23,309.92 L668.94,310.98 L670.65,312.04 L672.37,313.11 L674.08,314.19 L675.79,315.27 L677.51,316.36 L679.22,317.46 L680.93,318.56 L682.64,319.67 L684.36,320.78 L686.07,321.90 L687.78,323.02 L689.49,324.15 L691.21,325.29 L692.92,326.43 L694.63,327.58 L696.35,328.73 L698.06,329.89 L699.77,331.05 L701.48,332.22 L703.20,333.40 L704.91,334.58 L706.62,335.76 L708.34,336.95 L710.05,338.15 L711.76,339.35 L713.47,340.56 L715.19,341.77 L716.90,342.98 L718.61,344.20 L720.32,345.43 L722.04,346.66 L723.75,347.89 L725.46,349.13 L727.18,350.37 L728.89,351.62 L730.60,352.87 L732.31,354.13 L734.03,355.39 L735.74,356.65 L737.45,357.92 L739.17,359.19 L740.88,360.47 L742.59,361.75 L744.30,363.03 L746.02,364.32 L747.73,365.61 L749.44,366.90 L751.15,368.20 L752.87,369.50 L754.58,370.80 L756.29,372.10 L758.01,373.41 L759.72,374.72 L761.43,376.03 L763.14,377.34 L764.86,378.66 L766.57,379.98 L768.28,381.30 L770.00,382.62 L771.71,383.94 L773.42,385.27 L775.13,386.59 L776.85,387.92 L778.56,389.25 L780.27,390.58 L781.98,391.90 L783.70,393.23 L785.41,394.56 L787.12,395.89 L788.84,397.22 L790.55,398.55 L792.26,399.88 L793.97,401.21 L795.69,402.54 L797.40,403.86" fill="none" stroke="#0000ff" stroke-width="2.5" stroke-dasharray="14.9 7.0 3.75 7.0"/>
<path d="M114.00,214.92 L115.71,214.92 L117.43,214.91 L119.14,214.91 L120.85,214.90 L122.56,214.89 L124.28,214.89 L125.99,214.88 L127.70,214.88 L129.42,214.87 L131.13,214.86 L132.84,214.86 L134.55,214.85 L136.27,214.85 L137.98,214.84 L139.69,214.83 L141.40,214.83 L143.12,214.82 L144.83,214.81 L146.54,214.81 L148.26,214.80 L149.97,214.79 L151.68,214.79 L153.39,214.78 L155.11,214.77 L156.82,214.77 L158.53,214.76 L160.25,214.75 L161.96,214.75 L163.67,214.74 L165.38,214.73 L167.10,214.73 L168.81,214.72 L170.52,214.71 L172.23,214.71 L173.95,214.70 L175.66,214.69 L177.37,214.68 L179.09,214.68 L180.80,214.67 L182.51,214.66 L184.22,214.66 L185.94,214.65 L187.65,214.64 L189.36,214.63 L191.08,214.63 L192.79,214.62 L194.50,214.61 L196.21,214.61 L197.93,214.60 L199.64,214.59 L201.35,214.58 L203.06,214.58 L204.78,214.57 L206.49,214.56 L208.20,214.55 L209.92,214.55 L211.63,214.54 L213.34,214.53 L215.05,214.52 L216.77,214.52 L218.48,214.51 L220.19,214.50 L221.91,214.49 L223.62,214.49 L225.33,214.48 L227.04,214.47 L228.76,214.47 L230.47,214.46 L232.18,214.45 L233.89,214.44 L235.61,214.44 L237.32,214.43 L239.03,214.42 L240.75,214.42 L242.46,214.41 L244.17,214.40 L245.88,214.39 L247.60,214.39 L249.31,214.38 L251.02,214.37 L252.74,214.37 L254.45,214.36 L256.16,214.35 L257.87,214.35 L259.59,214.34 L261.30,214.34 L263.01,214.33 L264.72,214.32 L266.44,214.32 L268.15,214.31 L269.86,214.31 L271.58,214.30 L273.29,214.30 L275.00,214.29 L276.71,214.28 L278.43,214.28 L280.14,214.27 L281.85,214.27 L283.57,214.27 L285.28,214.26 L286.99,214.26 L288.70,214.25 L290.42,214.25 L292.13,214.25 L293.84,214.24 L295.55,214.24 L297.27,214.24 L298.98,214.23 L300.69,214.23 L302.41,214.23 L304.12,214.23 L305.83,214.23 L307.54,214.22 L309.26,214.22 L310.97,214.22 L312.68,214.22 L314.40,214.22 L316.11,214.22 L317.82,214.22 L319.53,214.22 L321.25,214.23 L322.96,214.23 L324.67,214.23 L326.38,214.23 L328.10,214.24 L329.81,214.24 L331.52,214.24 L333.24,214.25 L334.95,214.25 L336.66,214.26 L338.37,214.27 L340.09,214.27 L341.80,214.28 L343.51,214.29 L345.23,214.30 L346.94,214.30 L348.65,214.31 L350.36,214.32 L352.08,214.34 L353.79,214.35 L355.50,214.36 L357.22,214.37 L358.93,214.39 L360.64,214.40 L362.35,214.42 L364.07,214.43 L365.78,214.45 L367.49,214.47 L369.20,214.49 L370.92,214.51 L372.63,214.53 L374.34,214.55 L376.06,214.57 L377.77,214.60 L379.48,214.62 L381.19,214.65 L382.91,214.68 L384.62,214.71 L386.33,214.74 L388.05,214.77 L389.76,214.80 L391.47,214.83 L393.18,214.87 L394.90,214.90 L396.61,214.94 L398.32,214.98 L400.03,215.02 L401.75,215.07 L403.46,215.11 L405.17,215.16 L406.89,215.20 L408.60,215.25 L410.31,215.30 L412.02,215.36 L413.74,215.41 L415.45,215.47 L417.16,215.53 L418.88,215.59 L420.59,215.65 L422.30,215.71 L424.01,215.78 L425.73,215.85 L427.44,215.92 L429.15,216.00 L430.86,216.07 L432.58,216.15 L434.29,216.23 L436.00,216.32 L437.72,216.41 L439.43,216.50 L441.14,216.59 L442.85,216.68 L444.57,216.78 L446.28,216.88 L447.99,216.99 L449.71,217.10 L451.42,217.21 L453.13,217.32 L454.84,217.44 L456.56,217.56 L458.27,217.69 L459.98,217.82 L461.69,217.95 L463.41,218.09 L465.12,218.23 L466.83,218.38 L468.55,218.53 L470.26,218.68 L471.97,218.84 L473.68,219.00 L475.40,219.17 L477.11,219.34 L478.82,219.52 L480.54,219.70 L482.25,219.89 L483.96,220.08 L485.67,220.28 L487.39,220.48 L489.10,220.69 L490.81,220.91 L492.52,221.13 L494.24,221.36 L495.95,221.59 L497.66,221.83 L499.38,222.08 L501.09,222.33 L502.80,222.59 L504.51,222.85 L506.23,223.13 L507.94,223.41 L509.65,223.70 L511.37,223.99 L513.08,224.30 L514.79,224.61 L516.50,224.93 L518.22,225.26 L519.93,225.59 L521.64,225.94 L523.35,226.29 L525.07,226.65 L526.78,227.03 L528.49,227.41 L530.21,227.80 L531.92,228.20 L533.63,228.61 L535.34,229.04 L537.06,229.47 L538.77,229.91 L540.48,230.36 L542.20,230.83 L543.91,231.31 L545.62,231.79 L547.33,232.29 L549.05,232.81 L550.76,233.33 L552.47,233.87 L554.18,234.42 L555.90,234.98 L557.61,235.56 L559.32,236.15 L561.04,236.75 L562.75,237.37 L564.46,238.00 L566.17,238.65 L567.89,239.31 L569.60,239.99 L571.31,240.68 L573.03,241.39 L574.74,242.12 L576.45,242.86 L578.16,243.62 L579.88,244.39 L581.59,245.19 L583.30,246.00 L585.02,246.83 L586.73,247.67 L588.44,248.54 L590.15,249.42 L591.87,250.32 L593.58,251.25 L595.29,252.19 L597.00,253.15 L598.72,254.14 L600.43,255.14 L602.14,256.16 L603.86,257.21 L605.57,258.28 L607.28,259.37 L608.99,260.48 L610.71,261.62 L612.42,262.77 L614.13,263.95 L615.85,265.16 L617.56,266.39 L619.27,267.64 L620.98,268.92 L622.70,270.22 L624.41,271.55 L626.12,272.90 L627.83,274.28 L629.55,275.68 L631.26,277.11 L632.97,278.57 L634.69,280.05 L636.40,281.56 L638.11,283.10 L639.82,284.66 L641.54,286.25 L643.25,287.87 L644.96,289.52 L646.68,291.20 L648.39,292.90 L650.10,294.64 L651.81,296.40 L653.53,298.19 L655.24,300.01 L656.95,301.86 L658.66,303.73 L660.38,305.64 L662.09,307.58 L663.80,309.54 L665.52,311.54 L667.23,313.56 L668.94,315.61 L670.65,317.70 L672.37,319.81 L674.08,321.95 L675.79,324.12 L677.51,326.32 L679.22,328.54 L680.93,330.80 L682.64,333.08 L684.36,335.39 L686.07,337.73 L687.78,340.10 L689.49,342.49 L691.21,344.91 L692.92,347.35 L694.63,349.82 L696.35,352.32 L698.06,354.84 L699.77,357.38 L701.48,359.95 L703.20,362.54 L704.91,365.15 L706.62,367.78 L708.34,370.44 L710.05,373.11 L711.76,375.80 L713.47,378.51 L715.19,381.24 L716.90,383.98 L718.61,386.74 L720.32,389.51 L722.04,392.29 L723.75,395.09 L725.46,397.89 L727.18,400.71 L728.89,403.53 L730.60,406.36 L732.31,409.20 L734.03,412.04 L735.74,414.89 L737.45,417.73 L739.17,420.58 L740.88,423.43 L742.59,426.28 L744.30,429.12 L746.02,431.96 L747.73,434.79 L749.44,437.61 L751.15,440.43 L752.87,443.24 L754.58,446.04 L756.29,448.83 L758.01,451.61 L759.72,454.37 L761.43,457.12 L763.14,459.86 L764.86,462.59 L766.57,465.30 L768.28,467.99 L770.00,470.68 L771.71,473.35 L773.42,476.00 L775.13,478.65 L776.85,481.29 L778.56,483.92 L780.27,486.54 L781.98,489.16 L783.70,491.78 L785.41,494.40 L787.12,497.03 L788.84,499.68 L790.55,502.34 L792.26,505.02 L793.97,507.74 L795.69,510.49 L797.40,513.29" fill="none" stroke="#0000ff" stroke-width="2.5" stroke-dasharray="2.5 6.815"/>
</g>
<g>
<line x1="239.53" x2="239.53" y1="146.05" y2="214.73" stroke="#000" stroke-width="2.5"/>
<circle cx="239.53" cy="180.39" r="5.55" fill="#000"/>
<line x1="515.87" x2="515.87" y1="187.52" y2="282.09" stroke="#000" stroke-width="2.5"/>
<circle cx="515.87" cy="234.80" r="5.55" fill="#000"/>
<line x1="694.54" x2="694.54" y1="257.21" y2="322.20" stroke="#000" stroke-width="2.5"/>
<circle cx="694.54" cy="289.71" r="5.55" fill="#000"/>
<line x1="754.71" x2="754.71" y1="350.38" y2="406.64" stroke="#000" stroke-width="2.5"/>
<circle cx="754.71" cy="378.51" r="5.55" fill="#000"/>
</g>
<path d="M216.86,513.0 v-3.7 M216.86,28.0 v3.7 M277.03,513.0 v-3.7 M277.03,28.0 v3.7 M319.72,513.0 v-3.7 M319.72,28.0 v3.7 M352.84,513.0 v-3.7 M352.84,28.0 v3.7 M379.89,513.0 v-3.7 M379.89,28.0 v3.7 M402.77,513.0 v-3.7 M402.77,28.0 v3.7 M422.59,513.0 v-3.7 M422.59,28.0 v3.7 M440.06,513.0 v-3.7 M440.06,28.0 v3.7 M455.70,513.0 v-7.3 M455.70,28.0 v7.3 M558.56,513.0 v-3.7 M558.56,28.0 v3.7 M618.73,513.0 v-3.7 M618.73,28.0 v3.7 M661.42,513.0 v-3.7 M661.42,28.0 v3.7 M694.54,513.0 v-3.7 M694.54,28.0 v3.7 M721.59,513.0 v-3.7 M721.59,28.0 v3.7 M744.47,513.0 v-3.7 M744.47,28.0 v3.7 M764.29,513.0 v-3.7 M764.29,28.0 v3.7 M781.76,513.0 v-3.7 M781.76,28.0 v3.7 M114.0,464.50 h7.3 M797.4,464.50 h-7.3 M114.0,416.00 h3.7 M797.4,416.00 h-3.7 M114.0,367.50 h7.3 M797.4,367.50 h-7.3 M114.0,319.00 h3.7 M797.4,319.00 h-3.7 M114.0,270.50 h7.3 M797.4,270.50 h-7.3 M114.0,222.00 h3.7 M797.4,222.00 h-3.7 M114.0,173.50 h7.3 M797.4,173.50 h-7.3 M114.0,125.00 h3.7 M797.4,125.00 h-3.7 M114.0,76.50 h7.3 M797.4,76.50 h-7.3" stroke="#000" stroke-width="1.3" fill="none"/>
<rect x="114.0" y="28.0" width="683.4" height="485.0" fill="none" stroke="#000" stroke-width="1.5"/>
<g>
<text x="118.00" y="542.2" text-anchor="middle" font-size="23.3">10</text>
<text x="459.80" y="542.2" text-anchor="middle" font-size="23.3">100</text>
<text x="800.90" y="542.2" text-anchor="middle" font-size="23.3">1000</text>
<text x="100.2" y="82.00" text-anchor="end" font-size="23.3">1.2</text>
<text x="100.2" y="179.00" text-anchor="end" font-size="23.3">1</text>
<text x="100.2" y="276.00" text-anchor="end" font-size="23.3">0.8</text>
<text x="100.2" y="373.00" text-anchor="end" font-size="23.3">0.6</text>
<text x="100.2" y="470.00" text-anchor="end" font-size="23.3">0.4</text>
</g>
<g>
<text x="417.1" y="577.7" text-anchor="middle" font-size="29.5" font-style="italic">E</text>
<text x="456.3" y="577.7" text-anchor="middle" font-size="28">k</text>
<text x="471.1" y="577.7" text-anchor="middle" font-size="28">e</text>
<text x="487.5" y="577.7" text-anchor="middle" font-size="28">V</text>
<path d="M446.40,556.50 C436.80,564.06 436.80,576.94 446.40,584.50 C439.20,576.94 439.20,564.06 446.40,556.50 Z" fill="#222" stroke="#222" stroke-width="0.5" stroke-linejoin="round"/>
<path d="M494.60,556.50 C504.20,564.06 504.20,576.94 494.60,584.50 C501.80,576.94 501.80,564.06 494.60,556.50 Z" fill="#222" stroke="#222" stroke-width="0.5" stroke-linejoin="round"/>
</g>
<g transform="translate(27.8,404) rotate(-90)">
<text transform="translate(7.5,0) scale(0.98,0.8)" x="0" y="0" text-anchor="middle" font-size="28" font-style="italic">σ</text>
<text x="20.5" y="4.1" text-anchor="middle" font-size="19" font-style="italic">n</text>
<text x="29.0" y="4.1" text-anchor="middle" font-size="19">,</text>
<text transform="translate(38.4,4.1) scale(0.72,1.08)" x="0" y="0" text-anchor="middle" font-size="19" font-style="italic">γ</text>
<line x1="47" y1="6.5" x2="57" y2="-21" stroke="#222" stroke-width="1.3"/>
<path d="M61.6,-9.6 L63.3,-11.3 L69,1.2 L81.5,-24.8 L103.7,-24.8" fill="none" stroke="#222" stroke-width="1.2"/>
<path d="M63.0,-11.0 L69.2,1.8" fill="none" stroke="#222" stroke-width="2.6"/>
<text x="93.5" y="0" text-anchor="middle" font-size="29.5" font-style="italic">E</text>
<path d="M121.80,-21.20 C112.20,-13.64 112.20,-0.76 121.80,6.80 C114.60,-0.76 114.60,-13.64 121.80,-21.20 Z" fill="#222" stroke="#222" stroke-width="0.5" stroke-linejoin="round"/>
<text x="132" y="0" text-anchor="middle" font-size="28" font-style="italic">μ</text>
<text x="148.2" y="0" text-anchor="middle" font-size="28">b</text>
<text x="171.2" y="0" text-anchor="middle" font-size="28">k</text>
<text x="183.6" y="0" text-anchor="middle" font-size="28">e</text>
<text x="200.2" y="0" text-anchor="middle" font-size="29">V</text>
<line x1="212.9" y1="-15.2" x2="224.3" y2="-15.2" stroke="#222" stroke-width="1.2"/>
<text x="229.8" y="-10.2" text-anchor="middle" font-size="18.5">1</text>
<line x1="236.7" y1="-5.8" x2="243.8" y2="-24" stroke="#222" stroke-width="1.1"/>
<text x="250.9" y="-10.2" text-anchor="middle" font-size="18.5">2</text>
<path d="M258.00,-21.20 C267.60,-13.64 267.60,-0.76 258.00,6.80 C265.20,-0.76 265.20,-13.64 258.00,-21.20 Z" fill="#222" stroke="#222" stroke-width="0.5" stroke-linejoin="round"/>
</g>
</svg>
</body></html>
